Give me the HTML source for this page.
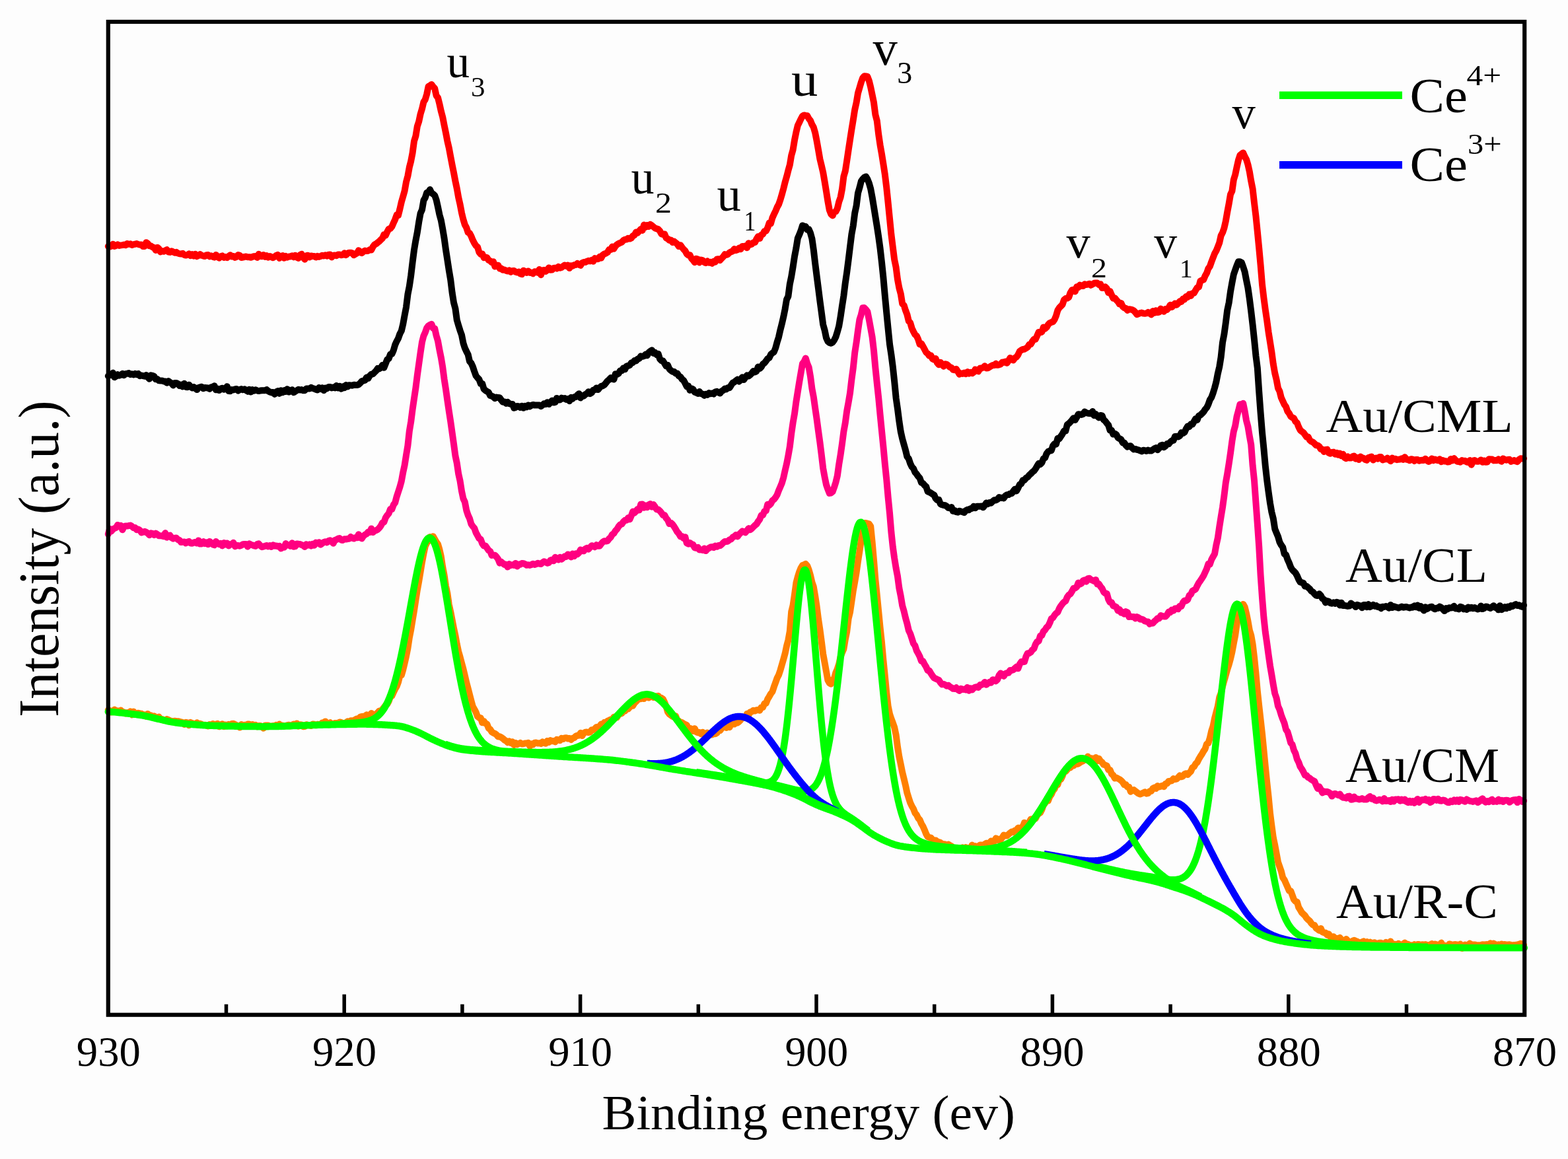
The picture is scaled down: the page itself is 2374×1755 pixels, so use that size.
<!DOCTYPE html>
<html><head><meta charset="utf-8"><title>Ce 3d XPS spectra</title>
<style>html,body{margin:0;padding:0;background:#fdfdfd}svg{display:block}</style></head>
<body><svg width="2374" height="1755" viewBox="0 0 2374 1755">
<rect width="2374" height="1755" fill="#fdfdfd"/>
<g><polyline points="163.8,373.0 166.2,373.6 168.6,372.6 171.0,369.7 173.4,373.0 175.8,372.0 178.2,370.3 180.6,371.9 183.0,371.4 185.4,371.1 187.8,370.5 190.2,371.2 192.6,369.0 195.0,369.8 197.4,369.3 199.8,371.0 202.2,370.1 204.6,369.7 207.0,369.0 209.4,370.0 211.8,370.6 214.2,370.4 216.6,373.1 219.0,372.9 221.4,367.2 223.8,368.9 226.2,372.2 228.6,372.5 231.0,374.3 233.4,375.1 235.8,379.0 238.2,374.7 240.6,376.7 243.0,381.4 245.4,380.0 247.8,380.7 250.2,379.5 252.6,378.2 255.0,381.5 257.4,381.9 259.8,380.2 262.2,381.4 264.6,382.8 267.0,381.8 269.4,383.5 271.8,384.2 274.2,384.4 276.6,383.8 279.0,385.9 281.4,386.6 283.8,386.0 286.2,384.4 288.6,387.1 291.0,385.3 293.4,387.7 295.8,384.8 298.2,388.2 300.6,386.9 303.0,385.1 305.4,386.8 307.8,387.5 310.2,388.0 312.6,386.2 315.0,386.1 317.4,388.4 319.8,387.4 322.2,388.7 324.6,389.6 327.0,385.9 329.4,389.0 331.8,390.6 334.2,388.2 336.6,387.4 339.0,389.9 341.4,389.1 343.8,390.1 346.2,388.1 348.6,386.3 351.0,388.5 353.4,387.9 355.8,389.9 358.2,388.9 360.6,386.0 363.0,386.7 365.4,390.0 367.8,389.6 370.2,388.9 372.6,388.5 375.0,389.2 377.4,389.2 379.8,389.8 382.2,388.8 384.6,388.2 387.0,388.0 389.4,390.0 391.8,384.7 394.2,388.1 396.6,388.3 399.0,386.0 401.4,388.8 403.8,387.2 406.2,389.6 408.6,388.0 411.0,389.3 413.4,390.2 415.8,388.8 418.2,386.8 420.6,385.8 423.0,391.0 425.4,388.0 427.8,387.1 430.2,390.8 432.6,388.0 435.0,389.7 437.4,388.4 439.8,388.4 442.2,387.3 444.6,389.2 447.0,386.8 449.4,389.6 451.8,391.0 454.2,386.1 456.6,384.7 459.0,389.6 461.4,392.7 463.8,387.1 466.2,386.7 468.6,389.6 471.0,387.4 473.4,387.9 475.8,388.1 478.2,389.5 480.6,387.9 483.0,388.9 485.4,388.0 487.8,386.8 490.2,387.5 492.6,386.4 495.0,387.7 497.4,385.7 499.8,385.6 502.2,389.4 504.6,386.8 507.0,386.6 509.4,387.2 511.8,385.5 514.2,385.5 516.6,386.3 519.0,385.9 521.4,383.3 523.8,386.2 526.2,383.7 528.6,382.7 531.0,382.7 533.4,383.3 535.8,386.2 538.2,384.8 540.6,383.3 543.0,379.2 545.4,382.2 547.8,383.2 550.2,380.9 552.6,379.6 555.0,380.1 557.4,379.7 559.8,378.1 562.2,378.5 564.6,373.7 567.0,370.5 569.4,369.3 571.8,367.3 574.2,365.5 576.6,363.0 579.0,360.8 581.4,355.2 583.8,356.4 586.2,351.1 588.6,346.8 591.0,346.0 593.4,343.1 595.8,337.5 598.2,332.3 600.6,325.6 603.0,326.0 605.4,316.5 607.8,305.8 610.2,297.7 612.6,289.1 615.0,275.5 617.4,266.5 619.8,253.3 622.2,243.9 624.6,231.5 627.0,213.7 629.4,206.1 631.8,191.3 634.2,184.0 636.6,172.6 639.0,164.8 641.4,154.4 643.8,150.7 646.2,142.6 648.6,130.9 651.0,129.6 653.4,127.9 655.8,131.3 658.2,133.7 660.6,144.8 663.0,147.8 665.4,157.4 667.8,168.4 670.2,177.3 672.6,189.6 675.0,201.2 677.4,213.8 679.8,224.1 682.2,237.2 684.6,249.6 687.0,261.5 689.4,274.2 691.8,285.6 694.2,299.2 696.6,309.7 699.0,322.3 701.4,332.3 703.8,340.3 706.2,344.6 708.6,351.8 711.0,353.1 713.4,357.6 715.8,363.6 718.2,368.3 720.6,371.9 723.0,374.0 725.4,381.9 727.8,384.9 730.2,384.6 732.6,390.1 735.0,389.4 737.4,390.3 739.8,393.9 742.2,395.1 744.6,397.4 747.0,396.3 749.4,403.6 751.8,401.5 754.2,401.7 756.6,406.7 759.0,406.5 761.4,408.8 763.8,408.6 766.2,409.7 768.6,410.6 771.0,409.3 773.4,411.9 775.8,410.3 778.2,409.9 780.6,411.7 783.0,412.5 785.4,411.6 787.8,414.4 790.2,415.2 792.6,409.7 795.0,410.9 797.4,412.8 799.8,410.6 802.2,412.9 804.6,412.8 807.0,414.3 809.4,411.3 811.8,411.6 814.2,412.8 816.6,407.9 819.0,416.2 821.4,409.6 823.8,408.9 826.2,410.8 828.6,408.8 831.0,405.4 833.4,408.7 835.8,408.6 838.2,406.0 840.6,405.8 843.0,406.6 845.4,404.0 847.8,405.7 850.2,404.9 852.6,403.1 855.0,401.5 857.4,403.0 859.8,401.5 862.2,406.1 864.6,402.3 867.0,402.8 869.4,401.3 871.8,401.0 874.2,398.9 876.6,400.7 879.0,401.9 881.4,398.0 883.8,397.0 886.2,397.0 888.6,395.8 891.0,394.8 893.4,395.4 895.8,393.9 898.2,395.8 900.6,391.2 903.0,392.2 905.4,392.2 907.8,389.1 910.2,390.7 912.6,386.1 915.0,384.5 917.4,383.6 919.8,382.1 922.2,378.0 924.6,378.1 927.0,373.6 929.4,376.7 931.8,372.8 934.2,370.3 936.6,368.9 939.0,367.8 941.4,366.7 943.8,364.0 946.2,362.8 948.6,362.6 951.0,360.7 953.4,361.6 955.8,360.5 958.2,357.1 960.6,356.1 963.0,351.4 965.4,352.7 967.8,349.7 970.2,346.9 972.6,348.9 975.0,340.6 977.4,344.0 979.8,340.9 982.2,343.0 984.6,339.8 987.0,341.4 989.4,343.5 991.8,345.5 994.2,346.4 996.6,347.1 999.0,349.6 1001.4,354.2 1003.8,355.0 1006.2,354.5 1008.6,360.4 1011.0,361.5 1013.4,363.8 1015.8,363.5 1018.2,366.9 1020.6,365.5 1023.0,367.5 1025.4,369.6 1027.8,373.1 1030.2,371.2 1032.6,374.5 1035.0,377.5 1037.4,379.9 1039.8,384.4 1042.2,386.5 1044.6,386.3 1047.0,391.5 1049.4,393.9 1051.8,397.2 1054.2,391.8 1056.6,392.5 1059.0,397.5 1061.4,393.6 1063.8,394.1 1066.2,397.1 1068.6,398.1 1071.0,395.6 1073.4,397.6 1075.8,396.9 1078.2,398.9 1080.6,395.9 1083.0,396.6 1085.4,392.4 1087.8,392.2 1090.2,394.0 1092.6,391.3 1095.0,388.8 1097.4,385.1 1099.8,386.0 1102.2,384.9 1104.6,382.4 1107.0,381.2 1109.4,380.3 1111.8,377.0 1114.2,379.1 1116.6,378.3 1119.0,375.6 1121.4,377.3 1123.8,372.9 1126.2,373.3 1128.6,372.3 1131.0,375.2 1133.4,368.2 1135.8,370.4 1138.2,369.7 1140.6,367.3 1143.0,367.1 1145.4,362.0 1147.8,358.2 1150.2,361.1 1152.6,355.8 1155.0,354.7 1157.4,350.2 1159.8,349.8 1162.2,345.0 1164.6,337.9 1167.0,338.3 1169.4,329.9 1171.8,324.5 1174.2,319.6 1176.6,313.8 1179.0,309.5 1181.4,302.7 1183.8,294.5 1186.2,285.7 1188.6,276.0 1191.0,267.7 1193.4,258.2 1195.8,249.7 1198.2,235.3 1200.6,226.8 1203.0,212.1 1205.4,200.2 1207.8,190.1 1210.2,185.2 1212.6,180.1 1215.0,175.8 1217.4,174.4 1219.8,174.9 1222.2,175.3 1224.6,179.6 1227.0,182.6 1229.4,188.6 1231.8,192.8 1234.2,201.1 1236.6,213.4 1239.0,226.9 1241.4,240.9 1243.8,250.8 1246.2,261.1 1248.6,275.2 1251.0,289.8 1253.4,304.9 1255.8,318.2 1258.2,324.1 1260.6,326.5 1263.0,321.6 1265.4,320.4 1267.8,315.8 1270.2,305.6 1272.6,298.8 1275.0,286.3 1277.4,267.1 1279.8,259.0 1282.2,243.6 1284.6,227.3 1287.0,211.5 1289.4,196.1 1291.8,181.5 1294.2,166.1 1296.6,155.3 1299.0,141.0 1301.4,132.9 1303.8,124.6 1306.2,118.0 1308.6,115.2 1311.0,115.5 1313.4,116.0 1315.8,122.2 1318.2,131.9 1320.6,143.4 1323.0,155.3 1325.4,173.8 1327.8,183.1 1330.2,203.5 1332.6,219.8 1335.0,233.4 1337.4,248.4 1339.8,264.0 1342.2,283.7 1344.6,306.7 1347.0,331.1 1349.4,355.2 1351.8,374.4 1354.2,393.3 1356.6,404.8 1359.0,423.3 1361.4,436.1 1363.8,445.1 1366.2,460.0 1368.6,462.3 1371.0,469.9 1373.4,476.2 1375.8,486.1 1378.2,488.8 1380.6,497.0 1383.0,502.2 1385.4,506.6 1387.8,508.7 1390.2,513.9 1392.6,521.4 1395.0,520.3 1397.4,524.5 1399.8,528.9 1402.2,533.5 1404.6,535.4 1407.0,538.8 1409.4,538.2 1411.8,543.4 1414.2,544.7 1416.6,542.9 1419.0,549.5 1421.4,552.2 1423.8,548.7 1426.2,551.3 1428.6,554.7 1431.0,551.3 1433.4,551.6 1435.8,553.8 1438.2,555.9 1440.6,556.9 1443.0,559.8 1445.4,560.2 1447.8,558.8 1450.2,562.7 1452.6,566.8 1455.0,565.4 1457.4,565.9 1459.8,564.5 1462.2,566.3 1464.6,563.1 1467.0,565.6 1469.4,563.9 1471.8,565.3 1474.2,563.6 1476.6,559.4 1479.0,561.5 1481.4,562.3 1483.8,557.6 1486.2,557.6 1488.6,556.4 1491.0,554.3 1493.4,557.5 1495.8,557.3 1498.2,555.8 1500.6,554.2 1503.0,553.1 1505.4,553.0 1507.8,550.8 1510.2,552.8 1512.6,552.3 1515.0,551.5 1517.4,548.5 1519.8,548.7 1522.2,547.5 1524.6,549.7 1527.0,546.2 1529.4,541.9 1531.8,544.4 1534.2,545.4 1536.6,541.9 1539.0,540.4 1541.4,537.2 1543.8,532.0 1546.2,530.2 1548.6,529.0 1551.0,528.7 1553.4,527.3 1555.8,525.7 1558.2,521.7 1560.6,521.4 1563.0,517.0 1565.4,513.8 1567.8,513.8 1570.2,508.5 1572.6,503.1 1575.0,503.3 1577.4,502.8 1579.8,495.5 1582.2,497.7 1584.6,495.6 1587.0,491.5 1589.4,489.0 1591.8,488.0 1594.2,487.2 1596.6,483.9 1599.0,478.1 1601.4,469.9 1603.8,466.0 1606.2,463.6 1608.6,461.2 1611.0,454.0 1613.4,452.0 1615.8,451.6 1618.2,450.2 1620.6,443.2 1623.0,439.2 1625.4,438.8 1627.8,441.4 1630.2,434.3 1632.6,435.2 1635.0,431.7 1637.4,433.0 1639.8,433.1 1642.2,430.4 1644.6,431.1 1647.0,430.6 1649.4,429.8 1651.8,431.8 1654.2,430.4 1656.6,428.8 1659.0,428.5 1661.4,428.6 1663.8,431.2 1666.2,430.4 1668.6,436.0 1671.0,435.7 1673.4,434.3 1675.8,436.9 1678.2,443.3 1680.6,441.0 1683.0,446.6 1685.4,451.7 1687.8,451.2 1690.2,454.2 1692.6,456.7 1695.0,460.5 1697.4,459.0 1699.8,464.1 1702.2,466.1 1704.6,467.0 1707.0,469.9 1709.4,468.3 1711.8,468.5 1714.2,469.1 1716.6,470.4 1719.0,473.0 1721.4,476.2 1723.8,475.2 1726.2,474.2 1728.6,473.6 1731.0,474.5 1733.4,474.7 1735.8,474.4 1738.2,472.9 1740.6,474.2 1743.0,476.4 1745.4,471.1 1747.8,473.8 1750.2,470.2 1752.6,473.1 1755.0,472.6 1757.4,467.5 1759.8,470.0 1762.2,471.8 1764.6,468.1 1767.0,468.9 1769.4,466.0 1771.8,461.7 1774.2,465.0 1776.6,462.4 1779.0,459.5 1781.4,461.7 1783.8,459.4 1786.2,456.4 1788.6,457.0 1791.0,452.5 1793.4,453.3 1795.8,449.1 1798.2,449.9 1800.6,445.6 1803.0,448.0 1805.4,444.1 1807.8,443.8 1810.2,439.6 1812.6,435.6 1815.0,434.6 1817.4,425.5 1819.8,424.4 1822.2,423.5 1824.6,417.8 1827.0,413.6 1829.4,406.7 1831.8,403.4 1834.2,396.5 1836.6,390.3 1839.0,384.0 1841.4,379.8 1843.8,373.8 1846.2,367.7 1848.6,356.9 1851.0,352.3 1853.4,345.3 1855.8,334.9 1858.2,321.2 1860.6,308.5 1863.0,294.3 1865.4,289.3 1867.8,272.2 1870.2,264.4 1872.6,253.0 1875.0,242.3 1877.4,235.1 1879.8,233.1 1882.2,231.4 1884.6,236.9 1887.0,241.3 1889.4,249.1 1891.8,259.9 1894.2,274.1 1896.6,286.0 1899.0,307.3 1901.4,327.0 1903.8,350.7 1906.2,375.6 1908.6,401.6 1911.0,430.8 1913.4,451.1 1915.8,469.2 1918.2,485.3 1920.6,503.2 1923.0,518.2 1925.4,533.4 1927.8,551.4 1930.2,565.0 1932.6,574.9 1935.0,587.7 1937.4,592.5 1939.8,602.2 1942.2,607.4 1944.6,612.6 1947.0,615.9 1949.4,622.9 1951.8,625.9 1954.2,630.5 1956.6,632.3 1959.0,633.4 1961.4,638.2 1963.8,640.4 1966.2,646.5 1968.6,651.3 1971.0,653.3 1973.4,655.0 1975.8,658.2 1978.2,661.8 1980.6,661.6 1983.0,666.4 1985.4,668.6 1987.8,669.4 1990.2,671.6 1992.6,674.3 1995.0,674.5 1997.4,676.1 1999.8,680.1 2002.2,680.5 2004.6,684.0 2007.0,680.9 2009.4,680.6 2011.8,685.9 2014.2,686.8 2016.6,684.9 2019.0,684.6 2021.4,687.7 2023.8,685.8 2026.2,688.8 2028.6,686.6 2031.0,690.3 2033.4,687.8 2035.8,693.0 2038.2,694.2 2040.6,691.6 2043.0,693.5 2045.4,693.6 2047.8,691.3 2050.2,690.5 2052.6,694.7 2055.0,693.1 2057.4,695.9 2059.8,691.5 2062.2,693.2 2064.6,693.8 2067.0,696.0 2069.4,696.8 2071.8,693.0 2074.2,692.3 2076.6,691.5 2079.0,696.5 2081.4,694.3 2083.8,693.5 2086.2,694.6 2088.6,692.0 2091.0,692.1 2093.4,696.4 2095.8,695.6 2098.2,695.3 2100.6,693.6 2103.0,696.2 2105.4,698.2 2107.8,693.5 2110.2,695.5 2112.6,694.8 2115.0,696.2 2117.4,695.7 2119.8,695.5 2122.2,694.4 2124.6,695.9 2127.0,692.2 2129.4,695.8 2131.8,696.0 2134.2,697.2 2136.6,695.2 2139.0,695.7 2141.4,698.0 2143.8,696.0 2146.2,696.0 2148.6,697.8 2151.0,696.9 2153.4,696.7 2155.8,697.0 2158.2,694.7 2160.6,697.5 2163.0,698.9 2165.4,697.8 2167.8,694.4 2170.2,697.4 2172.6,695.5 2175.0,696.7 2177.4,697.3 2179.8,695.2 2182.2,699.3 2184.6,697.1 2187.0,698.5 2189.4,698.3 2191.8,699.5 2194.2,699.3 2196.6,695.1 2199.0,697.5 2201.4,694.1 2203.8,696.8 2206.2,698.7 2208.6,699.0 2211.0,699.7 2213.4,697.0 2215.8,698.1 2218.2,697.8 2220.6,699.7 2223.0,700.2 2225.4,697.1 2227.8,703.7 2230.2,697.6 2232.6,697.0 2235.0,698.5 2237.4,698.8 2239.8,698.4 2242.2,696.4 2244.6,699.8 2247.0,697.5 2249.4,699.8 2251.8,699.5 2254.2,695.2 2256.6,695.6 2259.0,695.5 2261.4,697.4 2263.8,697.0 2266.2,697.3 2268.6,695.5 2271.0,697.4 2273.4,698.8 2275.8,694.4 2278.2,696.1 2280.6,696.7 2283.0,696.0 2285.4,695.8 2287.8,698.8 2290.2,697.9 2292.6,697.1 2295.0,698.5 2297.4,699.1 2299.8,695.9 2302.2,694.3 2304.6,694.5 2307.0,694.2" fill="none" stroke="#ff0000" stroke-width="10" stroke-linejoin="round" stroke-linecap="round"/><polyline points="163.8,569.3 166.2,568.0 168.6,568.1 171.0,564.6 173.4,571.2 175.8,569.8 178.2,567.2 180.6,568.6 183.0,567.6 185.4,566.0 187.8,568.2 190.2,565.9 192.6,565.8 195.0,565.0 197.4,567.0 199.8,566.2 202.2,567.4 204.6,565.8 207.0,567.2 209.4,566.0 211.8,569.1 214.2,568.5 216.6,569.1 219.0,569.7 221.4,567.9 223.8,571.2 226.2,573.7 228.6,568.3 231.0,568.8 233.4,569.8 235.8,574.3 238.2,574.0 240.6,576.3 243.0,576.5 245.4,576.5 247.8,577.4 250.2,577.4 252.6,579.8 255.0,577.2 257.4,578.9 259.8,580.5 262.2,583.5 264.6,579.9 267.0,579.9 269.4,581.2 271.8,584.1 274.2,582.6 276.6,585.5 279.0,580.8 281.4,586.0 283.8,586.2 286.2,582.7 288.6,585.5 291.0,587.5 293.4,586.0 295.8,587.7 298.2,590.1 300.6,587.0 303.0,586.3 305.4,585.7 307.8,588.2 310.2,587.0 312.6,587.2 315.0,587.5 317.4,588.8 319.8,586.3 322.2,585.7 324.6,584.3 327.0,590.3 329.4,588.6 331.8,591.1 334.2,588.7 336.6,587.7 339.0,589.8 341.4,589.0 343.8,585.2 346.2,592.1 348.6,592.3 351.0,590.1 353.4,590.4 355.8,589.4 358.2,588.9 360.6,591.5 363.0,590.0 365.4,589.1 367.8,590.3 370.2,589.2 372.6,591.1 375.0,592.7 377.4,589.7 379.8,593.5 382.2,590.3 384.6,591.8 387.0,590.4 389.4,591.5 391.8,592.1 394.2,591.5 396.6,591.2 399.0,591.3 401.4,591.2 403.8,590.1 406.2,592.3 408.6,593.5 411.0,594.4 413.4,594.0 415.8,596.9 418.2,593.5 420.6,592.2 423.0,595.9 425.4,591.2 427.8,594.3 430.2,591.1 432.6,593.1 435.0,589.2 437.4,593.6 439.8,591.7 442.2,590.2 444.6,594.3 447.0,592.6 449.4,591.2 451.8,589.8 454.2,590.6 456.6,590.1 459.0,591.3 461.4,591.2 463.8,588.6 466.2,588.6 468.6,588.4 471.0,586.9 473.4,588.0 475.8,588.6 478.2,589.7 480.6,590.5 483.0,587.0 485.4,589.0 487.8,587.3 490.2,591.2 492.6,587.6 495.0,588.4 497.4,585.9 499.8,586.0 502.2,587.5 504.6,586.4 507.0,587.4 509.4,584.0 511.8,587.5 514.2,584.8 516.6,588.8 519.0,585.3 521.4,587.3 523.8,583.0 526.2,585.6 528.6,583.2 531.0,583.4 533.4,583.8 535.8,582.7 538.2,583.0 540.6,583.1 543.0,582.2 545.4,580.1 547.8,577.1 550.2,576.6 552.6,575.8 555.0,571.5 557.4,573.0 559.8,569.0 562.2,566.7 564.6,566.4 567.0,563.9 569.4,561.5 571.8,557.9 574.2,558.4 576.6,556.8 579.0,553.0 581.4,556.8 583.8,550.6 586.2,544.5 588.6,543.0 591.0,536.6 593.4,535.9 595.8,530.5 598.2,522.1 600.6,516.8 603.0,512.4 605.4,505.5 607.8,501.0 610.2,490.8 612.6,477.7 615.0,465.1 617.4,445.8 619.8,433.6 622.2,417.2 624.6,397.2 627.0,378.5 629.4,364.2 631.8,351.8 634.2,336.2 636.6,323.0 639.0,317.6 641.4,303.5 643.8,299.3 646.2,291.7 648.6,290.9 651.0,287.1 653.4,292.1 655.8,293.8 658.2,295.9 660.6,302.6 663.0,313.4 665.4,325.0 667.8,333.7 670.2,346.6 672.6,360.9 675.0,378.2 677.4,393.7 679.8,409.5 682.2,423.6 684.6,443.1 687.0,458.2 689.4,467.2 691.8,484.7 694.2,492.9 696.6,500.6 699.0,507.2 701.4,519.4 703.8,526.9 706.2,532.1 708.6,536.7 711.0,547.2 713.4,549.9 715.8,555.1 718.2,562.4 720.6,569.0 723.0,572.0 725.4,574.5 727.8,581.0 730.2,581.0 732.6,589.2 735.0,591.2 737.4,592.7 739.8,594.1 742.2,599.0 744.6,599.7 747.0,601.0 749.4,603.2 751.8,601.6 754.2,602.1 756.6,602.3 759.0,605.8 761.4,608.7 763.8,608.4 766.2,610.8 768.6,609.0 771.0,611.2 773.4,611.8 775.8,611.9 778.2,617.7 780.6,616.9 783.0,614.9 785.4,615.4 787.8,616.9 790.2,614.8 792.6,617.8 795.0,615.0 797.4,616.3 799.8,613.5 802.2,615.5 804.6,613.8 807.0,613.0 809.4,613.5 811.8,613.4 814.2,613.5 816.6,613.5 819.0,615.2 821.4,613.5 823.8,611.2 826.2,612.1 828.6,609.3 831.0,612.1 833.4,609.6 835.8,606.6 838.2,609.5 840.6,609.1 843.0,602.9 845.4,605.5 847.8,605.5 850.2,602.6 852.6,603.5 855.0,603.1 857.4,604.9 859.8,604.0 862.2,607.2 864.6,601.8 867.0,603.7 869.4,601.3 871.8,601.0 874.2,598.1 876.6,596.2 879.0,602.5 881.4,599.0 883.8,599.6 886.2,597.2 888.6,596.2 891.0,593.2 893.4,596.0 895.8,594.7 898.2,590.6 900.6,590.2 903.0,587.4 905.4,590.1 907.8,587.1 910.2,584.9 912.6,584.3 915.0,582.8 917.4,579.9 919.8,576.8 922.2,574.9 924.6,572.2 927.0,573.7 929.4,574.5 931.8,566.2 934.2,567.0 936.6,565.5 939.0,561.3 941.4,561.3 943.8,557.4 946.2,559.3 948.6,554.6 951.0,553.9 953.4,553.1 955.8,549.5 958.2,549.0 960.6,546.0 963.0,546.5 965.4,543.7 967.8,542.8 970.2,539.3 972.6,539.8 975.0,539.2 977.4,536.7 979.8,538.3 982.2,533.8 984.6,531.7 987.0,530.3 989.4,534.8 991.8,533.8 994.2,537.2 996.6,535.8 999.0,543.5 1001.4,546.0 1003.8,546.5 1006.2,550.4 1008.6,554.3 1011.0,552.9 1013.4,558.6 1015.8,561.0 1018.2,562.7 1020.6,562.8 1023.0,565.6 1025.4,565.4 1027.8,569.4 1030.2,570.7 1032.6,574.2 1035.0,576.0 1037.4,580.4 1039.8,585.2 1042.2,584.5 1044.6,590.9 1047.0,588.4 1049.4,589.5 1051.8,593.7 1054.2,594.6 1056.6,595.9 1059.0,593.1 1061.4,596.1 1063.8,596.7 1066.2,598.8 1068.6,596.8 1071.0,597.8 1073.4,595.2 1075.8,596.2 1078.2,595.4 1080.6,596.6 1083.0,593.3 1085.4,592.8 1087.8,594.4 1090.2,595.5 1092.6,592.3 1095.0,591.0 1097.4,588.6 1099.8,589.4 1102.2,586.9 1104.6,587.2 1107.0,583.3 1109.4,579.6 1111.8,578.6 1114.2,576.5 1116.6,574.7 1119.0,577.4 1121.4,575.6 1123.8,571.2 1126.2,575.0 1128.6,571.4 1131.0,568.4 1133.4,569.5 1135.8,567.6 1138.2,565.2 1140.6,561.9 1143.0,563.5 1145.4,562.1 1147.8,555.4 1150.2,558.1 1152.6,555.7 1155.0,551.4 1157.4,549.7 1159.8,546.6 1162.2,543.3 1164.6,541.8 1167.0,536.8 1169.4,534.6 1171.8,533.0 1174.2,527.0 1176.6,518.1 1179.0,510.4 1181.4,499.7 1183.8,490.3 1186.2,479.9 1188.6,467.9 1191.0,453.5 1193.4,448.7 1195.8,430.2 1198.2,418.8 1200.6,404.1 1203.0,388.2 1205.4,375.7 1207.8,360.7 1210.2,355.3 1212.6,349.2 1215.0,341.5 1217.4,342.6 1219.8,343.0 1222.2,347.9 1224.6,347.3 1227.0,352.8 1229.4,361.5 1231.8,378.4 1234.2,399.0 1236.6,418.0 1239.0,436.6 1241.4,455.6 1243.8,473.3 1246.2,491.5 1248.6,500.1 1251.0,511.7 1253.4,516.9 1255.8,519.0 1258.2,519.8 1260.6,518.4 1263.0,515.1 1265.4,510.3 1267.8,502.5 1270.2,493.8 1272.6,479.6 1275.0,463.3 1277.4,447.9 1279.8,428.4 1282.2,412.3 1284.6,393.6 1287.0,373.9 1289.4,354.6 1291.8,341.6 1294.2,322.6 1296.6,311.7 1299.0,292.3 1301.4,284.2 1303.8,274.6 1306.2,271.0 1308.6,268.7 1311.0,267.4 1313.4,271.4 1315.8,277.3 1318.2,285.9 1320.6,298.6 1323.0,313.3 1325.4,328.1 1327.8,342.9 1330.2,358.8 1332.6,376.2 1335.0,397.3 1337.4,420.4 1339.8,447.6 1342.2,472.9 1344.6,497.2 1347.0,521.3 1349.4,537.0 1351.8,555.5 1354.2,577.9 1356.6,602.6 1359.0,619.2 1361.4,638.1 1363.8,653.9 1366.2,664.5 1368.6,673.2 1371.0,681.6 1373.4,691.5 1375.8,694.6 1378.2,701.8 1380.6,706.9 1383.0,709.4 1385.4,715.1 1387.8,717.8 1390.2,721.3 1392.6,724.1 1395.0,730.7 1397.4,731.9 1399.8,734.8 1402.2,736.8 1404.6,744.3 1407.0,745.2 1409.4,746.5 1411.8,748.2 1414.2,749.4 1416.6,754.8 1419.0,757.2 1421.4,756.8 1423.8,763.0 1426.2,764.3 1428.6,765.0 1431.0,765.3 1433.4,766.8 1435.8,768.9 1438.2,769.5 1440.6,768.1 1443.0,774.0 1445.4,773.0 1447.8,775.2 1450.2,775.7 1452.6,773.7 1455.0,774.7 1457.4,775.2 1459.8,776.2 1462.2,773.1 1464.6,771.8 1467.0,772.2 1469.4,770.2 1471.8,769.8 1474.2,766.7 1476.6,769.3 1479.0,766.7 1481.4,766.7 1483.8,766.7 1486.2,766.6 1488.6,768.3 1491.0,764.8 1493.4,761.4 1495.8,763.1 1498.2,761.0 1500.6,761.7 1503.0,759.1 1505.4,757.2 1507.8,757.4 1510.2,756.1 1512.6,753.1 1515.0,753.9 1517.4,753.7 1519.8,754.4 1522.2,750.7 1524.6,749.2 1527.0,749.1 1529.4,747.4 1531.8,747.3 1534.2,743.7 1536.6,740.8 1539.0,743.4 1541.4,739.0 1543.8,733.7 1546.2,732.5 1548.6,727.3 1551.0,727.1 1553.4,723.9 1555.8,722.5 1558.2,719.6 1560.6,717.5 1563.0,714.9 1565.4,713.1 1567.8,710.0 1570.2,705.9 1572.6,701.9 1575.0,703.1 1577.4,700.5 1579.8,694.6 1582.2,693.2 1584.6,686.8 1587.0,683.8 1589.4,682.6 1591.8,682.2 1594.2,674.9 1596.6,672.0 1599.0,672.7 1601.4,663.8 1603.8,664.5 1606.2,660.6 1608.6,657.1 1611.0,652.4 1613.4,652.6 1615.8,643.1 1618.2,641.4 1620.6,639.0 1623.0,636.2 1625.4,633.2 1627.8,636.0 1630.2,632.0 1632.6,627.2 1635.0,627.4 1637.4,627.9 1639.8,627.0 1642.2,623.4 1644.6,625.2 1647.0,625.7 1649.4,626.0 1651.8,626.2 1654.2,623.0 1656.6,629.2 1659.0,627.1 1661.4,630.1 1663.8,632.5 1666.2,629.0 1668.6,629.4 1671.0,635.7 1673.4,637.6 1675.8,640.9 1678.2,643.8 1680.6,651.6 1683.0,651.7 1685.4,657.6 1687.8,656.6 1690.2,658.0 1692.6,662.7 1695.0,664.2 1697.4,665.5 1699.8,670.4 1702.2,670.4 1704.6,674.3 1707.0,676.7 1709.4,675.4 1711.8,675.3 1714.2,678.3 1716.6,680.4 1719.0,679.9 1721.4,680.9 1723.8,681.4 1726.2,682.5 1728.6,683.5 1731.0,681.7 1733.4,682.2 1735.8,683.0 1738.2,681.6 1740.6,682.5 1743.0,682.6 1745.4,681.0 1747.8,679.3 1750.2,678.1 1752.6,681.2 1755.0,678.8 1757.4,674.5 1759.8,673.9 1762.2,677.2 1764.6,675.5 1767.0,672.0 1769.4,672.3 1771.8,669.3 1774.2,667.4 1776.6,666.9 1779.0,660.9 1781.4,660.8 1783.8,661.4 1786.2,660.0 1788.6,655.2 1791.0,656.0 1793.4,654.7 1795.8,649.3 1798.2,645.5 1800.6,646.2 1803.0,642.3 1805.4,642.5 1807.8,638.2 1810.2,634.1 1812.6,636.0 1815.0,629.5 1817.4,628.5 1819.8,626.3 1822.2,623.8 1824.6,620.0 1827.0,617.3 1829.4,612.3 1831.8,605.5 1834.2,601.8 1836.6,595.2 1839.0,587.4 1841.4,578.4 1843.8,565.8 1846.2,555.6 1848.6,540.8 1851.0,518.6 1853.4,506.1 1855.8,488.9 1858.2,469.7 1860.6,458.5 1863.0,441.4 1865.4,428.0 1867.8,415.6 1870.2,408.7 1872.6,402.0 1875.0,396.3 1877.4,396.2 1879.8,397.6 1882.2,404.0 1884.6,411.5 1887.0,424.0 1889.4,435.7 1891.8,452.4 1894.2,471.4 1896.6,491.8 1899.0,514.3 1901.4,538.6 1903.8,557.2 1906.2,592.8 1908.6,625.4 1911.0,654.8 1913.4,679.2 1915.8,705.6 1918.2,726.9 1920.6,745.1 1923.0,762.0 1925.4,775.6 1927.8,785.2 1930.2,800.8 1932.6,806.8 1935.0,812.5 1937.4,820.8 1939.8,825.3 1942.2,828.6 1944.6,838.9 1947.0,840.0 1949.4,847.2 1951.8,852.4 1954.2,858.7 1956.6,862.7 1959.0,865.1 1961.4,867.5 1963.8,871.7 1966.2,877.4 1968.6,881.5 1971.0,882.2 1973.4,882.8 1975.8,887.8 1978.2,887.7 1980.6,889.7 1983.0,891.8 1985.4,895.1 1987.8,896.4 1990.2,899.3 1992.6,901.5 1995.0,902.0 1997.4,899.2 1999.8,901.9 2002.2,906.4 2004.6,907.6 2007.0,912.4 2009.4,910.0 2011.8,910.7 2014.2,913.1 2016.6,913.8 2019.0,912.3 2021.4,913.9 2023.8,911.9 2026.2,912.6 2028.6,916.5 2031.0,912.7 2033.4,916.9 2035.8,916.8 2038.2,917.3 2040.6,917.9 2043.0,917.6 2045.4,913.5 2047.8,915.6 2050.2,916.4 2052.6,919.0 2055.0,915.9 2057.4,916.8 2059.8,917.4 2062.2,920.2 2064.6,915.9 2067.0,916.1 2069.4,919.3 2071.8,915.0 2074.2,919.0 2076.6,917.8 2079.0,916.0 2081.4,917.9 2083.8,917.1 2086.2,919.0 2088.6,919.3 2091.0,921.2 2093.4,918.8 2095.8,919.0 2098.2,918.0 2100.6,918.9 2103.0,920.7 2105.4,915.9 2107.8,920.1 2110.2,918.2 2112.6,919.2 2115.0,919.6 2117.4,920.5 2119.8,919.6 2122.2,918.6 2124.6,919.7 2127.0,919.3 2129.4,919.0 2131.8,919.7 2134.2,920.4 2136.6,919.6 2139.0,919.7 2141.4,917.4 2143.8,919.3 2146.2,916.6 2148.6,920.8 2151.0,918.1 2153.4,921.8 2155.8,924.5 2158.2,919.2 2160.6,922.0 2163.0,920.5 2165.4,919.1 2167.8,918.7 2170.2,921.0 2172.6,922.3 2175.0,920.7 2177.4,920.9 2179.8,918.6 2182.2,919.9 2184.6,922.5 2187.0,925.1 2189.4,921.0 2191.8,922.4 2194.2,920.2 2196.6,920.4 2199.0,920.3 2201.4,917.8 2203.8,921.4 2206.2,921.4 2208.6,922.3 2211.0,918.8 2213.4,919.5 2215.8,922.3 2218.2,921.3 2220.6,923.0 2223.0,919.4 2225.4,921.1 2227.8,919.7 2230.2,921.3 2232.6,920.0 2235.0,921.6 2237.4,922.4 2239.8,921.7 2242.2,917.6 2244.6,922.0 2247.0,921.1 2249.4,918.6 2251.8,918.8 2254.2,920.1 2256.6,920.9 2259.0,919.2 2261.4,917.2 2263.8,920.1 2266.2,919.8 2268.6,923.3 2271.0,917.2 2273.4,923.2 2275.8,921.8 2278.2,919.3 2280.6,921.3 2283.0,918.7 2285.4,919.9 2287.8,917.0 2290.2,918.1 2292.6,916.2 2295.0,915.1 2297.4,917.0 2299.8,916.2 2302.2,918.0 2304.6,918.9 2307.0,916.5" fill="none" stroke="#000000" stroke-width="10" stroke-linejoin="round" stroke-linecap="round"/><polyline points="163.8,808.8 166.2,800.8 168.6,804.4 171.0,801.4 173.4,800.0 175.8,798.9 178.2,794.9 180.6,797.0 183.0,795.7 185.4,802.3 187.8,797.4 190.2,796.4 192.6,796.6 195.0,796.0 197.4,795.6 199.8,797.1 202.2,799.3 204.6,799.1 207.0,802.2 209.4,801.5 211.8,803.0 214.2,806.5 216.6,805.8 219.0,804.8 221.4,805.9 223.8,807.6 226.2,810.3 228.6,807.3 231.0,807.8 233.4,810.2 235.8,807.6 238.2,809.0 240.6,811.3 243.0,811.2 245.4,811.4 247.8,812.2 250.2,807.1 252.6,813.8 255.0,811.1 257.4,810.6 259.8,814.3 262.2,815.7 264.6,814.7 267.0,814.6 269.4,817.2 271.8,818.0 274.2,821.1 276.6,820.8 279.0,820.6 281.4,822.5 283.8,820.8 286.2,819.9 288.6,822.5 291.0,822.7 293.4,821.6 295.8,820.9 298.2,822.6 300.6,818.4 303.0,823.6 305.4,823.4 307.8,820.1 310.2,823.0 312.6,821.4 315.0,824.3 317.4,819.9 319.8,821.8 322.2,824.5 324.6,825.3 327.0,820.0 329.4,822.8 331.8,824.2 334.2,822.8 336.6,826.4 339.0,822.0 341.4,824.6 343.8,822.5 346.2,826.5 348.6,824.3 351.0,823.9 353.4,821.8 355.8,827.4 358.2,826.0 360.6,826.1 363.0,826.8 365.4,825.7 367.8,824.2 370.2,824.0 372.6,824.1 375.0,827.7 377.4,823.3 379.8,824.8 382.2,825.3 384.6,826.3 387.0,826.9 389.4,824.1 391.8,823.4 394.2,826.2 396.6,828.2 399.0,827.6 401.4,826.7 403.8,825.9 406.2,827.5 408.6,826.1 411.0,827.9 413.4,825.3 415.8,826.8 418.2,826.4 420.6,827.5 423.0,826.9 425.4,830.6 427.8,828.9 430.2,828.8 432.6,823.1 435.0,825.7 437.4,825.2 439.8,826.9 442.2,822.3 444.6,827.7 447.0,827.4 449.4,823.4 451.8,823.8 454.2,823.9 456.6,825.1 459.0,825.9 461.4,828.0 463.8,824.2 466.2,825.6 468.6,824.4 471.0,826.8 473.4,823.7 475.8,825.8 478.2,821.6 480.6,822.7 483.0,821.2 485.4,824.7 487.8,823.0 490.2,821.0 492.6,820.3 495.0,821.4 497.4,819.1 499.8,818.3 502.2,820.1 504.6,822.8 507.0,818.0 509.4,817.1 511.8,815.7 514.2,815.1 516.6,817.7 519.0,817.9 521.4,816.3 523.8,816.5 526.2,816.0 528.6,815.8 531.0,813.0 533.4,814.7 535.8,815.5 538.2,813.9 540.6,814.3 543.0,809.2 545.4,814.1 547.8,815.4 550.2,811.8 552.6,809.7 555.0,808.4 557.4,805.6 559.8,806.0 562.2,800.4 564.6,806.1 567.0,803.8 569.4,803.2 571.8,801.9 574.2,799.4 576.6,796.2 579.0,791.6 581.4,790.6 583.8,783.9 586.2,780.2 588.6,777.5 591.0,771.0 593.4,770.9 595.8,764.4 598.2,761.3 600.6,752.1 603.0,744.7 605.4,737.4 607.8,728.6 610.2,715.5 612.6,704.5 615.0,689.3 617.4,674.7 619.8,652.9 622.2,638.5 624.6,619.9 627.0,603.6 629.4,587.4 631.8,568.4 634.2,551.1 636.6,533.9 639.0,518.0 641.4,508.6 643.8,503.4 646.2,496.5 648.6,493.4 651.0,491.8 653.4,490.8 655.8,497.1 658.2,497.4 660.6,508.2 663.0,516.4 665.4,529.6 667.8,541.4 670.2,555.8 672.6,574.2 675.0,589.5 677.4,606.5 679.8,622.7 682.2,638.3 684.6,655.2 687.0,672.3 689.4,690.1 691.8,701.4 694.2,717.7 696.6,728.4 699.0,743.8 701.4,755.0 703.8,760.1 706.2,772.6 708.6,780.0 711.0,785.1 713.4,793.4 715.8,797.0 718.2,799.7 720.6,806.5 723.0,810.9 725.4,815.3 727.8,816.8 730.2,823.2 732.6,826.6 735.0,826.5 737.4,829.9 739.8,833.4 742.2,835.0 744.6,840.9 747.0,840.6 749.4,840.8 751.8,843.3 754.2,846.7 756.6,852.7 759.0,850.8 761.4,853.1 763.8,854.9 766.2,854.7 768.6,858.6 771.0,854.1 773.4,856.1 775.8,855.2 778.2,855.9 780.6,852.9 783.0,857.6 785.4,854.5 787.8,854.7 790.2,853.0 792.6,853.3 795.0,854.2 797.4,855.8 799.8,855.3 802.2,855.9 804.6,855.0 807.0,853.8 809.4,854.9 811.8,854.2 814.2,852.7 816.6,853.6 819.0,854.0 821.4,851.8 823.8,850.2 826.2,851.4 828.6,852.7 831.0,851.9 833.4,848.3 835.8,847.7 838.2,849.3 840.6,843.8 843.0,846.8 845.4,847.6 847.8,843.8 850.2,846.9 852.6,844.7 855.0,842.4 857.4,842.9 859.8,839.5 862.2,840.4 864.6,843.5 867.0,838.5 869.4,842.2 871.8,838.3 874.2,839.3 876.6,836.9 879.0,832.4 881.4,834.1 883.8,834.4 886.2,831.2 888.6,829.9 891.0,831.5 893.4,828.9 895.8,826.2 898.2,826.8 900.6,828.3 903.0,825.2 905.4,826.7 907.8,826.8 910.2,823.5 912.6,820.7 915.0,819.2 917.4,819.6 919.8,819.1 922.2,815.8 924.6,813.6 927.0,809.3 929.4,807.7 931.8,803.7 934.2,801.3 936.6,797.3 939.0,794.4 941.4,793.6 943.8,790.1 946.2,787.8 948.6,787.8 951.0,784.1 953.4,786.5 955.8,781.0 958.2,774.5 960.6,776.7 963.0,774.1 965.4,770.8 967.8,772.4 970.2,763.7 972.6,763.5 975.0,768.7 977.4,765.5 979.8,768.2 982.2,764.2 984.6,763.1 987.0,767.6 989.4,764.1 991.8,767.5 994.2,771.4 996.6,771.4 999.0,773.6 1001.4,776.4 1003.8,780.1 1006.2,779.9 1008.6,784.7 1011.0,787.3 1013.4,793.1 1015.8,791.8 1018.2,794.0 1020.6,797.3 1023.0,801.2 1025.4,805.4 1027.8,808.0 1030.2,812.4 1032.6,812.0 1035.0,815.1 1037.4,813.2 1039.8,822.4 1042.2,823.7 1044.6,822.1 1047.0,823.9 1049.4,824.8 1051.8,829.3 1054.2,829.9 1056.6,828.8 1059.0,832.5 1061.4,832.2 1063.8,833.1 1066.2,830.6 1068.6,834.1 1071.0,831.4 1073.4,829.9 1075.8,828.5 1078.2,828.1 1080.6,829.1 1083.0,826.5 1085.4,827.8 1087.8,826.1 1090.2,826.3 1092.6,824.4 1095.0,821.9 1097.4,820.0 1099.8,820.0 1102.2,819.5 1104.6,817.2 1107.0,816.5 1109.4,813.5 1111.8,812.3 1114.2,810.0 1116.6,812.4 1119.0,809.2 1121.4,806.9 1123.8,804.4 1126.2,805.0 1128.6,806.3 1131.0,803.4 1133.4,800.1 1135.8,802.1 1138.2,800.4 1140.6,797.9 1143.0,795.5 1145.4,793.6 1147.8,789.6 1150.2,786.5 1152.6,780.3 1155.0,780.0 1157.4,774.2 1159.8,773.5 1162.2,763.7 1164.6,765.2 1167.0,762.9 1169.4,758.0 1171.8,756.2 1174.2,753.3 1176.6,749.2 1179.0,742.8 1181.4,737.3 1183.8,731.5 1186.2,723.3 1188.6,712.5 1191.0,702.4 1193.4,690.1 1195.8,676.3 1198.2,656.6 1200.6,640.0 1203.0,626.4 1205.4,608.4 1207.8,593.2 1210.2,578.4 1212.6,564.3 1215.0,550.6 1217.4,547.6 1219.8,542.5 1222.2,550.5 1224.6,556.2 1227.0,570.0 1229.4,588.4 1231.8,601.1 1234.2,618.1 1236.6,634.5 1239.0,652.5 1241.4,669.8 1243.8,688.9 1246.2,709.2 1248.6,722.3 1251.0,734.0 1253.4,740.9 1255.8,746.9 1258.2,746.5 1260.6,744.5 1263.0,737.9 1265.4,730.3 1267.8,720.5 1270.2,703.3 1272.6,688.6 1275.0,671.9 1277.4,653.4 1279.8,640.1 1282.2,622.3 1284.6,609.4 1287.0,595.1 1289.4,574.6 1291.8,557.0 1294.2,533.9 1296.6,518.4 1299.0,500.5 1301.4,484.0 1303.8,476.4 1306.2,466.3 1308.6,466.1 1311.0,468.6 1313.4,472.0 1315.8,484.0 1318.2,497.1 1320.6,510.4 1323.0,531.0 1325.4,557.3 1327.8,580.4 1330.2,602.6 1332.6,628.2 1335.0,652.6 1337.4,676.6 1339.8,702.2 1342.2,725.6 1344.6,752.7 1347.0,776.9 1349.4,805.9 1351.8,828.3 1354.2,845.5 1356.6,860.2 1359.0,872.8 1361.4,890.8 1363.8,902.7 1366.2,917.1 1368.6,925.4 1371.0,935.7 1373.4,944.2 1375.8,954.6 1378.2,959.6 1380.6,966.8 1383.0,974.4 1385.4,977.7 1387.8,985.2 1390.2,989.5 1392.6,994.3 1395.0,1001.0 1397.4,1001.3 1399.8,1006.1 1402.2,1009.7 1404.6,1015.4 1407.0,1015.6 1409.4,1019.6 1411.8,1023.3 1414.2,1026.5 1416.6,1027.6 1419.0,1028.7 1421.4,1029.8 1423.8,1033.5 1426.2,1036.4 1428.6,1035.9 1431.0,1037.0 1433.4,1038.7 1435.8,1037.7 1438.2,1039.9 1440.6,1041.1 1443.0,1042.8 1445.4,1042.9 1447.8,1041.3 1450.2,1044.3 1452.6,1046.0 1455.0,1042.9 1457.4,1043.9 1459.8,1043.7 1462.2,1044.6 1464.6,1040.9 1467.0,1045.8 1469.4,1042.2 1471.8,1044.6 1474.2,1042.1 1476.6,1040.6 1479.0,1040.1 1481.4,1040.9 1483.8,1037.1 1486.2,1036.9 1488.6,1035.8 1491.0,1032.9 1493.4,1036.8 1495.8,1034.7 1498.2,1032.8 1500.6,1033.7 1503.0,1029.2 1505.4,1029.6 1507.8,1031.3 1510.2,1028.9 1512.6,1022.6 1515.0,1019.5 1517.4,1021.9 1519.8,1023.9 1522.2,1020.1 1524.6,1019.0 1527.0,1018.8 1529.4,1014.9 1531.8,1015.0 1534.2,1014.2 1536.6,1011.8 1539.0,1009.8 1541.4,1012.3 1543.8,1005.8 1546.2,1002.1 1548.6,1002.3 1551.0,1002.0 1553.4,994.2 1555.8,989.2 1558.2,989.2 1560.6,987.6 1563.0,984.1 1565.4,982.3 1567.8,975.6 1570.2,971.7 1572.6,970.9 1575.0,962.9 1577.4,962.2 1579.8,956.1 1582.2,953.8 1584.6,950.0 1587.0,947.9 1589.4,943.1 1591.8,936.8 1594.2,935.4 1596.6,931.6 1599.0,928.8 1601.4,927.0 1603.8,921.4 1606.2,917.4 1608.6,914.2 1611.0,911.6 1613.4,910.0 1615.8,904.2 1618.2,900.9 1620.6,899.3 1623.0,895.4 1625.4,890.7 1627.8,890.6 1630.2,888.8 1632.6,882.5 1635.0,884.8 1637.4,883.4 1639.8,879.4 1642.2,878.3 1644.6,880.7 1647.0,876.2 1649.4,875.8 1651.8,877.9 1654.2,878.8 1656.6,880.0 1659.0,877.9 1661.4,884.5 1663.8,884.3 1666.2,888.2 1668.6,891.0 1671.0,896.3 1673.4,898.3 1675.8,898.8 1678.2,907.6 1680.6,912.0 1683.0,912.2 1685.4,917.5 1687.8,918.1 1690.2,919.2 1692.6,924.7 1695.0,923.0 1697.4,927.7 1699.8,926.9 1702.2,929.8 1704.6,926.2 1707.0,927.3 1709.4,934.0 1711.8,933.5 1714.2,934.1 1716.6,934.1 1719.0,936.3 1721.4,934.1 1723.8,935.3 1726.2,937.7 1728.6,937.5 1731.0,938.6 1733.4,940.5 1735.8,941.1 1738.2,941.5 1740.6,944.8 1743.0,943.7 1745.4,943.7 1747.8,940.9 1750.2,939.0 1752.6,936.2 1755.0,936.4 1757.4,932.1 1759.8,932.9 1762.2,933.5 1764.6,933.5 1767.0,931.0 1769.4,926.6 1771.8,927.2 1774.2,923.6 1776.6,924.6 1779.0,921.5 1781.4,921.3 1783.8,922.2 1786.2,917.7 1788.6,918.0 1791.0,912.4 1793.4,909.4 1795.8,909.8 1798.2,908.0 1800.6,901.7 1803.0,900.0 1805.4,894.7 1807.8,893.6 1810.2,892.2 1812.6,887.2 1815.0,882.7 1817.4,879.3 1819.8,875.7 1822.2,871.8 1824.6,866.7 1827.0,861.4 1829.4,854.1 1831.8,854.5 1834.2,847.4 1836.6,843.0 1839.0,838.8 1841.4,825.4 1843.8,814.7 1846.2,798.0 1848.6,782.7 1851.0,768.2 1853.4,750.7 1855.8,731.0 1858.2,717.5 1860.6,702.2 1863.0,685.9 1865.4,668.0 1867.8,653.4 1870.2,644.6 1872.6,630.5 1875.0,621.9 1877.4,612.2 1879.8,615.4 1882.2,610.7 1884.6,622.5 1887.0,636.7 1889.4,645.7 1891.8,660.3 1894.2,673.4 1896.6,704.8 1899.0,727.5 1901.4,760.7 1903.8,793.2 1906.2,827.7 1908.6,871.2 1911.0,905.1 1913.4,935.1 1915.8,957.2 1918.2,973.8 1920.6,991.6 1923.0,1008.3 1925.4,1022.1 1927.8,1036.9 1930.2,1050.0 1932.6,1057.0 1935.0,1069.2 1937.4,1074.5 1939.8,1082.7 1942.2,1089.2 1944.6,1095.1 1947.0,1104.6 1949.4,1108.1 1951.8,1116.2 1954.2,1124.9 1956.6,1127.5 1959.0,1135.9 1961.4,1140.7 1963.8,1149.5 1966.2,1154.2 1968.6,1161.0 1971.0,1164.5 1973.4,1168.8 1975.8,1173.9 1978.2,1174.3 1980.6,1177.2 1983.0,1178.3 1985.4,1180.3 1987.8,1181.9 1990.2,1183.0 1992.6,1188.8 1995.0,1194.0 1997.4,1191.3 1999.8,1195.3 2002.2,1200.5 2004.6,1198.4 2007.0,1199.0 2009.4,1198.8 2011.8,1199.8 2014.2,1201.5 2016.6,1205.6 2019.0,1202.5 2021.4,1201.7 2023.8,1202.9 2026.2,1204.2 2028.6,1202.5 2031.0,1206.1 2033.4,1207.7 2035.8,1207.7 2038.2,1208.6 2040.6,1206.0 2043.0,1205.6 2045.4,1210.7 2047.8,1210.6 2050.2,1206.6 2052.6,1209.6 2055.0,1209.5 2057.4,1210.5 2059.8,1210.1 2062.2,1209.1 2064.6,1210.4 2067.0,1210.5 2069.4,1210.4 2071.8,1207.6 2074.2,1206.0 2076.6,1209.6 2079.0,1208.4 2081.4,1211.5 2083.8,1212.4 2086.2,1211.7 2088.6,1210.8 2091.0,1211.6 2093.4,1213.4 2095.8,1209.1 2098.2,1213.1 2100.6,1212.8 2103.0,1212.1 2105.4,1214.1 2107.8,1210.7 2110.2,1213.4 2112.6,1210.4 2115.0,1210.7 2117.4,1210.3 2119.8,1212.8 2122.2,1210.6 2124.6,1212.2 2127.0,1210.4 2129.4,1213.9 2131.8,1215.2 2134.2,1212.7 2136.6,1215.0 2139.0,1213.3 2141.4,1215.9 2143.8,1212.6 2146.2,1210.0 2148.6,1214.9 2151.0,1212.3 2153.4,1210.9 2155.8,1211.5 2158.2,1210.0 2160.6,1212.4 2163.0,1210.9 2165.4,1215.0 2167.8,1213.8 2170.2,1210.0 2172.6,1210.3 2175.0,1211.8 2177.4,1209.7 2179.8,1212.6 2182.2,1212.7 2184.6,1211.5 2187.0,1211.9 2189.4,1213.6 2191.8,1215.1 2194.2,1215.2 2196.6,1212.9 2199.0,1214.2 2201.4,1211.6 2203.8,1213.5 2206.2,1211.3 2208.6,1214.0 2211.0,1210.8 2213.4,1211.3 2215.8,1212.8 2218.2,1213.7 2220.6,1210.5 2223.0,1211.9 2225.4,1213.0 2227.8,1213.2 2230.2,1213.9 2232.6,1213.0 2235.0,1212.4 2237.4,1215.0 2239.8,1213.7 2242.2,1210.7 2244.6,1209.3 2247.0,1213.0 2249.4,1214.7 2251.8,1213.1 2254.2,1214.2 2256.6,1212.0 2259.0,1210.6 2261.4,1214.0 2263.8,1213.0 2266.2,1213.9 2268.6,1210.6 2271.0,1213.1 2273.4,1211.8 2275.8,1214.1 2278.2,1211.9 2280.6,1211.8 2283.0,1211.9 2285.4,1214.8 2287.8,1212.8 2290.2,1211.6 2292.6,1211.2 2295.0,1211.1 2297.4,1215.1 2299.8,1209.9 2302.2,1211.4 2304.6,1213.8 2307.0,1212.7" fill="none" stroke="#ff0080" stroke-width="10" stroke-linejoin="round" stroke-linecap="round"/><polyline points="163.8,1075.2 166.2,1076.0 168.6,1078.5 171.0,1077.4 173.4,1074.6 175.8,1076.9 178.2,1076.3 180.6,1077.6 183.0,1075.5 185.4,1078.2 187.8,1078.4 190.2,1080.5 192.6,1079.1 195.0,1079.6 197.4,1077.3 199.8,1082.5 202.2,1077.4 204.6,1081.7 207.0,1080.1 209.4,1079.7 211.8,1080.4 214.2,1080.7 216.6,1082.5 219.0,1082.3 221.4,1084.8 223.8,1081.0 226.2,1083.9 228.6,1083.3 231.0,1086.0 233.4,1084.4 235.8,1085.8 238.2,1087.1 240.6,1085.5 243.0,1089.3 245.4,1088.9 247.8,1090.6 250.2,1091.1 252.6,1089.1 255.0,1089.9 257.4,1091.1 259.8,1092.8 262.2,1092.1 264.6,1091.7 267.0,1092.2 269.4,1092.2 271.8,1092.7 274.2,1093.5 276.6,1093.9 279.0,1097.0 281.4,1093.9 283.8,1094.4 286.2,1098.3 288.6,1094.0 291.0,1095.0 293.4,1095.7 295.8,1096.9 298.2,1094.3 300.6,1098.0 303.0,1095.9 305.4,1096.8 307.8,1097.8 310.2,1097.7 312.6,1098.3 315.0,1099.5 317.4,1097.1 319.8,1097.7 322.2,1096.0 324.6,1099.0 327.0,1096.5 329.4,1095.9 331.8,1100.3 334.2,1097.5 336.6,1096.2 339.0,1100.2 341.4,1097.4 343.8,1099.3 346.2,1096.9 348.6,1097.7 351.0,1095.9 353.4,1095.7 355.8,1096.9 358.2,1098.1 360.6,1099.3 363.0,1101.5 365.4,1097.0 367.8,1099.7 370.2,1097.7 372.6,1098.3 375.0,1096.6 377.4,1096.6 379.8,1097.6 382.2,1097.0 384.6,1098.6 387.0,1097.7 389.4,1100.3 391.8,1098.9 394.2,1098.9 396.6,1100.2 399.0,1102.7 401.4,1098.6 403.8,1098.6 406.2,1098.5 408.6,1100.1 411.0,1099.7 413.4,1099.1 415.8,1099.6 418.2,1097.8 420.6,1099.2 423.0,1096.6 425.4,1100.2 427.8,1098.5 430.2,1100.0 432.6,1099.0 435.0,1098.1 437.4,1097.7 439.8,1099.5 442.2,1098.1 444.6,1096.6 447.0,1098.3 449.4,1095.4 451.8,1099.7 454.2,1097.2 456.6,1097.4 459.0,1100.2 461.4,1100.0 463.8,1097.2 466.2,1097.8 468.6,1098.3 471.0,1099.0 473.4,1096.5 475.8,1096.7 478.2,1098.1 480.6,1096.7 483.0,1097.2 485.4,1097.0 487.8,1094.6 490.2,1094.8 492.6,1092.4 495.0,1095.4 497.4,1097.4 499.8,1094.1 502.2,1097.0 504.6,1096.5 507.0,1095.0 509.4,1094.9 511.8,1094.9 514.2,1093.5 516.6,1094.0 519.0,1095.4 521.4,1094.8 523.8,1094.7 526.2,1092.4 528.6,1094.0 531.0,1091.3 533.4,1091.2 535.8,1091.0 538.2,1089.5 540.6,1088.3 543.0,1087.8 545.4,1085.8 547.8,1084.9 550.2,1084.8 552.6,1085.9 555.0,1082.3 557.4,1086.7 559.8,1084.4 562.2,1080.0 564.6,1082.9 567.0,1084.8 569.4,1081.4 571.8,1079.1 574.2,1076.5 576.6,1077.0 579.0,1074.2 581.4,1071.2 583.8,1068.1 586.2,1066.3 588.6,1062.0 591.0,1055.4 593.4,1053.8 595.8,1048.5 598.2,1043.3 600.6,1039.4 603.0,1033.0 605.4,1023.2 607.8,1022.5 610.2,1014.4 612.6,1004.4 615.0,993.8 617.4,981.8 619.8,965.7 622.2,953.6 624.6,939.0 627.0,924.6 629.4,908.8 631.8,893.5 634.2,880.4 636.6,866.0 639.0,851.3 641.4,838.5 643.8,827.2 646.2,821.9 648.6,819.1 651.0,813.0 653.4,816.0 655.8,812.2 658.2,816.5 660.6,820.7 663.0,823.9 665.4,832.0 667.8,842.7 670.2,858.5 672.6,870.9 675.0,887.5 677.4,898.6 679.8,915.5 682.2,926.3 684.6,938.8 687.0,951.1 689.4,962.2 691.8,975.3 694.2,986.5 696.6,994.9 699.0,1004.1 701.4,1012.8 703.8,1023.0 706.2,1033.4 708.6,1042.4 711.0,1051.7 713.4,1060.9 715.8,1069.8 718.2,1074.0 720.6,1078.4 723.0,1084.9 725.4,1086.8 727.8,1087.2 730.2,1094.3 732.6,1092.0 735.0,1095.5 737.4,1096.4 739.8,1102.8 742.2,1104.4 744.6,1108.3 747.0,1109.9 749.4,1110.9 751.8,1112.6 754.2,1115.5 756.6,1115.2 759.0,1116.6 761.4,1118.3 763.8,1120.5 766.2,1121.8 768.6,1124.2 771.0,1122.5 773.4,1125.0 775.8,1123.2 778.2,1128.0 780.6,1125.0 783.0,1127.3 785.4,1126.1 787.8,1124.9 790.2,1126.4 792.6,1126.2 795.0,1125.5 797.4,1125.6 799.8,1124.9 802.2,1129.8 804.6,1126.4 807.0,1127.5 809.4,1124.7 811.8,1124.6 814.2,1125.6 816.6,1125.3 819.0,1126.1 821.4,1123.4 823.8,1124.9 826.2,1125.7 828.6,1122.0 831.0,1123.9 833.4,1121.1 835.8,1122.3 838.2,1122.0 840.6,1123.3 843.0,1119.8 845.4,1120.5 847.8,1121.2 850.2,1117.9 852.6,1119.0 855.0,1117.4 857.4,1117.2 859.8,1118.5 862.2,1118.0 864.6,1120.0 867.0,1117.8 869.4,1117.2 871.8,1114.7 874.2,1113.8 876.6,1113.7 879.0,1109.8 881.4,1114.1 883.8,1110.2 886.2,1108.7 888.6,1108.5 891.0,1109.2 893.4,1108.6 895.8,1105.3 898.2,1105.2 900.6,1103.4 903.0,1100.9 905.4,1101.2 907.8,1099.8 910.2,1096.5 912.6,1098.6 915.0,1093.9 917.4,1094.9 919.8,1091.9 922.2,1090.8 924.6,1089.5 927.0,1089.8 929.4,1085.7 931.8,1085.5 934.2,1086.2 936.6,1081.7 939.0,1080.9 941.4,1080.2 943.8,1077.0 946.2,1076.7 948.6,1073.5 951.0,1073.5 953.4,1070.9 955.8,1067.7 958.2,1068.7 960.6,1064.7 963.0,1062.4 965.4,1059.8 967.8,1056.2 970.2,1058.2 972.6,1057.6 975.0,1058.0 977.4,1054.2 979.8,1054.9 982.2,1056.5 984.6,1054.9 987.0,1054.9 989.4,1056.2 991.8,1054.4 994.2,1054.4 996.6,1053.7 999.0,1056.3 1001.4,1056.9 1003.8,1058.4 1006.2,1063.4 1008.6,1069.8 1011.0,1078.1 1013.4,1081.4 1015.8,1083.0 1018.2,1084.9 1020.6,1085.0 1023.0,1084.2 1025.4,1090.5 1027.8,1091.7 1030.2,1094.5 1032.6,1094.1 1035.0,1095.7 1037.4,1097.1 1039.8,1097.9 1042.2,1104.4 1044.6,1102.7 1047.0,1104.0 1049.4,1107.1 1051.8,1103.2 1054.2,1108.4 1056.6,1109.4 1059.0,1108.9 1061.4,1111.4 1063.8,1108.7 1066.2,1111.9 1068.6,1113.4 1071.0,1109.7 1073.4,1110.9 1075.8,1112.6 1078.2,1112.5 1080.6,1111.0 1083.0,1111.3 1085.4,1109.8 1087.8,1106.3 1090.2,1106.3 1092.6,1103.1 1095.0,1100.5 1097.4,1098.7 1099.8,1102.0 1102.2,1099.4 1104.6,1101.2 1107.0,1095.9 1109.4,1096.5 1111.8,1096.5 1114.2,1094.9 1116.6,1094.6 1119.0,1092.8 1121.4,1090.1 1123.8,1085.9 1126.2,1085.6 1128.6,1086.9 1131.0,1080.7 1133.4,1082.4 1135.8,1078.3 1138.2,1077.6 1140.6,1075.7 1143.0,1076.5 1145.4,1075.3 1147.8,1075.0 1150.2,1075.7 1152.6,1071.0 1155.0,1071.1 1157.4,1065.4 1159.8,1064.9 1162.2,1058.7 1164.6,1054.8 1167.0,1050.5 1169.4,1047.5 1171.8,1040.1 1174.2,1033.6 1176.6,1026.6 1179.0,1022.2 1181.4,1015.0 1183.8,1006.7 1186.2,998.4 1188.6,989.7 1191.0,978.3 1193.4,969.2 1195.8,955.9 1198.2,926.1 1200.6,916.5 1203.0,900.2 1205.4,882.6 1207.8,873.4 1210.2,865.8 1212.6,860.0 1215.0,856.0 1217.4,855.2 1219.8,853.9 1222.2,856.7 1224.6,862.8 1227.0,871.2 1229.4,881.7 1231.8,888.5 1234.2,902.7 1236.6,918.3 1239.0,937.3 1241.4,953.3 1243.8,971.5 1246.2,990.5 1248.6,1003.5 1251.0,1016.7 1253.4,1030.0 1255.8,1034.2 1258.2,1035.7 1260.6,1029.8 1263.0,1027.4 1265.4,1018.4 1267.8,1012.9 1270.2,1005.5 1272.6,994.7 1275.0,988.3 1277.4,982.8 1279.8,968.2 1282.2,956.5 1284.6,936.9 1287.0,927.0 1289.4,910.7 1291.8,894.3 1294.2,881.0 1296.6,866.8 1299.0,849.8 1301.4,834.7 1303.8,818.0 1306.2,803.3 1308.6,792.1 1311.0,792.1 1313.4,792.7 1315.8,793.4 1318.2,796.8 1320.6,820.8 1323.0,848.4 1325.4,877.9 1327.8,901.6 1330.2,925.9 1332.6,950.6 1335.0,972.7 1337.4,999.8 1339.8,1023.4 1342.2,1048.5 1344.6,1069.3 1347.0,1081.1 1349.4,1088.3 1351.8,1094.6 1354.2,1101.5 1356.6,1112.7 1359.0,1131.1 1361.4,1146.0 1363.8,1157.6 1366.2,1169.5 1368.6,1179.3 1371.0,1189.3 1373.4,1200.6 1375.8,1208.2 1378.2,1215.6 1380.6,1220.7 1383.0,1224.7 1385.4,1231.0 1387.8,1233.9 1390.2,1238.9 1392.6,1241.5 1395.0,1247.2 1397.4,1251.2 1399.8,1256.7 1402.2,1262.8 1404.6,1267.1 1407.0,1268.0 1409.4,1268.6 1411.8,1271.4 1414.2,1272.2 1416.6,1272.4 1419.0,1274.4 1421.4,1275.2 1423.8,1275.8 1426.2,1279.3 1428.6,1278.1 1431.0,1278.5 1433.4,1280.9 1435.8,1278.6 1438.2,1280.1 1440.6,1281.2 1443.0,1283.7 1445.4,1284.3 1447.8,1284.7 1450.2,1284.2 1452.6,1283.9 1455.0,1286.3 1457.4,1283.3 1459.8,1284.7 1462.2,1283.1 1464.6,1284.0 1467.0,1284.0 1469.4,1285.3 1471.8,1279.5 1474.2,1284.5 1476.6,1281.1 1479.0,1282.0 1481.4,1282.1 1483.8,1279.4 1486.2,1279.6 1488.6,1279.7 1491.0,1278.2 1493.4,1276.7 1495.8,1277.2 1498.2,1276.4 1500.6,1273.5 1503.0,1276.3 1505.4,1273.9 1507.8,1269.4 1510.2,1270.4 1512.6,1272.6 1515.0,1271.2 1517.4,1268.3 1519.8,1264.5 1522.2,1265.2 1524.6,1265.6 1527.0,1263.4 1529.4,1261.2 1531.8,1259.4 1534.2,1260.1 1536.6,1257.5 1539.0,1256.9 1541.4,1253.6 1543.8,1256.2 1546.2,1253.0 1548.6,1251.8 1551.0,1245.7 1553.4,1250.0 1555.8,1248.1 1558.2,1245.3 1560.6,1240.5 1563.0,1240.8 1565.4,1239.3 1567.8,1239.4 1570.2,1234.7 1572.6,1231.9 1575.0,1230.8 1577.4,1226.1 1579.8,1219.4 1582.2,1216.3 1584.6,1212.3 1587.0,1212.5 1589.4,1206.3 1591.8,1203.1 1594.2,1197.5 1596.6,1194.6 1599.0,1188.9 1601.4,1188.3 1603.8,1180.4 1606.2,1180.2 1608.6,1175.2 1611.0,1168.1 1613.4,1168.1 1615.8,1165.4 1618.2,1160.9 1620.6,1162.3 1623.0,1159.7 1625.4,1159.5 1627.8,1156.9 1630.2,1157.0 1632.6,1156.6 1635.0,1154.8 1637.4,1153.1 1639.8,1152.4 1642.2,1149.9 1644.6,1150.3 1647.0,1145.5 1649.4,1150.2 1651.8,1148.2 1654.2,1148.7 1656.6,1149.4 1659.0,1146.9 1661.4,1152.1 1663.8,1148.8 1666.2,1152.5 1668.6,1154.3 1671.0,1157.8 1673.4,1158.6 1675.8,1159.6 1678.2,1165.5 1680.6,1165.7 1683.0,1171.9 1685.4,1173.9 1687.8,1178.4 1690.2,1177.6 1692.6,1178.9 1695.0,1180.1 1697.4,1181.9 1699.8,1184.4 1702.2,1188.3 1704.6,1188.1 1707.0,1191.7 1709.4,1191.8 1711.8,1198.7 1714.2,1196.6 1716.6,1196.0 1719.0,1198.0 1721.4,1199.9 1723.8,1201.6 1726.2,1202.5 1728.6,1201.6 1731.0,1200.5 1733.4,1199.4 1735.8,1201.7 1738.2,1201.2 1740.6,1198.3 1743.0,1198.1 1745.4,1193.9 1747.8,1192.6 1750.2,1194.1 1752.6,1190.0 1755.0,1191.5 1757.4,1190.7 1759.8,1189.8 1762.2,1191.2 1764.6,1186.9 1767.0,1186.4 1769.4,1182.9 1771.8,1182.8 1774.2,1182.1 1776.6,1179.1 1779.0,1180.0 1781.4,1179.6 1783.8,1177.3 1786.2,1174.5 1788.6,1176.2 1791.0,1175.4 1793.4,1172.1 1795.8,1171.2 1798.2,1173.0 1800.6,1170.2 1803.0,1168.0 1805.4,1162.3 1807.8,1160.9 1810.2,1156.7 1812.6,1154.4 1815.0,1149.6 1817.4,1145.4 1819.8,1141.9 1822.2,1137.5 1824.6,1134.1 1827.0,1126.6 1829.4,1125.3 1831.8,1117.6 1834.2,1106.8 1836.6,1099.6 1839.0,1087.7 1841.4,1078.5 1843.8,1069.6 1846.2,1056.1 1848.6,1049.6 1851.0,1039.3 1853.4,1030.6 1855.8,1022.3 1858.2,1013.7 1860.6,1006.4 1863.0,997.6 1865.4,987.4 1867.8,974.4 1870.2,962.1 1872.6,944.9 1875.0,932.4 1877.4,924.7 1879.8,918.7 1882.2,914.9 1884.6,919.0 1887.0,928.6 1889.4,940.3 1891.8,954.1 1894.2,961.9 1896.6,975.4 1899.0,995.4 1901.4,1019.3 1903.8,1046.1 1906.2,1068.6 1908.6,1089.8 1911.0,1111.2 1913.4,1135.9 1915.8,1160.8 1918.2,1184.5 1920.6,1206.5 1923.0,1231.7 1925.4,1250.3 1927.8,1268.4 1930.2,1279.6 1932.6,1292.5 1935.0,1305.4 1937.4,1312.4 1939.8,1319.1 1942.2,1328.9 1944.6,1332.3 1947.0,1337.9 1949.4,1343.2 1951.8,1348.8 1954.2,1349.1 1956.6,1355.5 1959.0,1362.2 1961.4,1364.9 1963.8,1365.7 1966.2,1374.0 1968.6,1377.7 1971.0,1381.9 1973.4,1384.3 1975.8,1386.5 1978.2,1390.2 1980.6,1392.6 1983.0,1394.6 1985.4,1398.1 1987.8,1400.6 1990.2,1400.9 1992.6,1405.6 1995.0,1407.1 1997.4,1408.8 1999.8,1405.9 2002.2,1411.2 2004.6,1412.4 2007.0,1412.6 2009.4,1415.9 2011.8,1414.3 2014.2,1418.8 2016.6,1418.6 2019.0,1418.2 2021.4,1421.5 2023.8,1420.9 2026.2,1421.4 2028.6,1419.9 2031.0,1422.9 2033.4,1424.6 2035.8,1424.7 2038.2,1422.0 2040.6,1424.6 2043.0,1426.6 2045.4,1426.1 2047.8,1424.9 2050.2,1423.8 2052.6,1424.9 2055.0,1425.7 2057.4,1427.1 2059.8,1427.8 2062.2,1426.4 2064.6,1425.4 2067.0,1427.2 2069.4,1426.2 2071.8,1429.8 2074.2,1426.6 2076.6,1429.0 2079.0,1427.7 2081.4,1427.3 2083.8,1430.0 2086.2,1428.6 2088.6,1427.8 2091.0,1427.7 2093.4,1429.2 2095.8,1430.6 2098.2,1426.8 2100.6,1430.2 2103.0,1429.2 2105.4,1425.5 2107.8,1429.5 2110.2,1429.7 2112.6,1429.7 2115.0,1430.9 2117.4,1428.7 2119.8,1432.5 2122.2,1431.2 2124.6,1429.3 2127.0,1427.6 2129.4,1430.2 2131.8,1429.7 2134.2,1431.2 2136.6,1431.3 2139.0,1432.9 2141.4,1430.2 2143.8,1431.4 2146.2,1429.9 2148.6,1430.0 2151.0,1432.5 2153.4,1430.3 2155.8,1430.4 2158.2,1430.1 2160.6,1431.0 2163.0,1431.3 2165.4,1430.4 2167.8,1429.1 2170.2,1431.1 2172.6,1429.5 2175.0,1430.2 2177.4,1430.9 2179.8,1431.0 2182.2,1427.6 2184.6,1432.9 2187.0,1431.8 2189.4,1433.3 2191.8,1434.0 2194.2,1429.5 2196.6,1430.0 2199.0,1431.1 2201.4,1430.2 2203.8,1430.1 2206.2,1430.4 2208.6,1432.2 2211.0,1429.6 2213.4,1436.0 2215.8,1432.2 2218.2,1430.5 2220.6,1431.8 2223.0,1430.7 2225.4,1428.7 2227.8,1430.1 2230.2,1430.6 2232.6,1430.4 2235.0,1430.9 2237.4,1431.3 2239.8,1431.2 2242.2,1431.1 2244.6,1430.3 2247.0,1430.5 2249.4,1430.3 2251.8,1430.1 2254.2,1432.6 2256.6,1428.3 2259.0,1431.1 2261.4,1428.7 2263.8,1430.0 2266.2,1431.9 2268.6,1430.4 2271.0,1432.6 2273.4,1429.6 2275.8,1430.4 2278.2,1430.0 2280.6,1430.8 2283.0,1430.4 2285.4,1430.3 2287.8,1430.9 2290.2,1431.2 2292.6,1431.0 2295.0,1430.8 2297.4,1430.4 2299.8,1429.8 2302.2,1428.8 2304.6,1429.4 2307.0,1430.8" fill="none" stroke="#ff8000" stroke-width="10" stroke-linejoin="round" stroke-linecap="round"/><polyline points="1586.8,1295.1 1587.8,1295.3 1588.8,1295.5 1589.8,1295.7 1590.8,1295.9 1591.8,1296.1 1592.8,1296.3 1593.8,1296.4 1594.8,1296.6 1595.8,1296.8 1596.8,1297.0 1597.8,1297.2 1598.8,1297.4 1599.8,1297.6 1600.8,1297.8 1601.8,1298.0 1602.8,1298.2 1603.8,1298.4 1604.8,1298.6 1605.8,1298.8 1606.8,1299.0 1607.8,1299.2 1608.8,1299.4 1609.8,1299.7 1610.8,1299.9 1611.8,1300.1 1612.8,1300.3 1613.8,1300.5 1614.8,1300.7 1615.8,1300.9 1616.8,1301.1 1617.8,1301.4 1618.8,1301.6 1619.8,1301.8 1620.8,1302.0 1621.8,1302.3 1622.8,1302.5 1623.8,1302.7 1624.8,1302.9 1625.8,1303.2 1626.8,1303.4 1627.8,1303.7 1628.8,1303.9 1629.8,1304.1 1630.8,1304.4 1631.8,1304.6 1632.8,1304.9 1633.8,1305.1 1634.8,1305.4 1635.8,1305.6 1636.8,1305.8 1637.8,1306.1 1638.8,1306.3 1639.8,1306.6 1640.8,1306.8 1641.8,1307.1 1642.8,1307.3 1643.8,1307.6 1644.8,1307.8 1645.8,1308.1 1646.8,1308.3 1647.8,1308.6 1648.8,1308.8 1649.8,1309.0 1650.8,1309.3 1651.8,1309.5 1652.8,1309.8 1653.8,1310.0 1654.8,1310.3 1655.8,1310.5 1656.8,1310.7 1657.8,1311.0 1658.8,1311.2 1659.8,1311.4 1660.8,1311.7 1661.8,1311.9 1662.8,1312.1 1663.8,1312.4 1664.8,1312.6 1665.8,1312.8 1666.8,1313.1 1667.8,1313.3 1668.8,1313.5 1669.8,1313.8 1670.8,1314.0 1671.8,1314.2 1672.8,1314.4 1673.8,1314.7 1674.8,1314.9 1675.8,1315.1 1676.8,1315.4 1677.8,1315.6 1678.8,1315.8 1679.8,1316.1 1680.8,1316.3 1681.8,1316.5 1682.8,1316.7 1683.8,1317.0 1684.8,1317.2 1685.8,1317.4 1686.8,1317.6 1687.8,1317.9 1688.8,1318.1 1689.8,1318.3 1690.8,1318.5 1691.8,1318.7 1692.8,1318.9 1693.8,1319.2 1694.8,1319.4 1695.8,1319.6 1696.8,1319.8 1697.8,1320.0 1698.8,1320.2 1699.8,1320.4 1700.8,1320.6 1701.8,1320.9 1702.8,1321.1 1703.8,1321.3 1704.8,1321.5 1705.8,1321.7 1706.8,1321.9 1707.8,1322.0 1708.8,1322.2 1709.8,1322.4 1710.8,1322.6 1711.8,1322.8 1712.8,1323.0 1713.8,1323.2 1714.8,1323.3 1715.8,1323.5 1716.8,1323.7 1717.8,1323.9 1718.8,1324.0 1719.8,1324.2 1720.8,1324.3 1721.8,1324.5 1722.8,1324.7 1723.8,1324.8 1724.8,1325.0 1725.8,1325.1 1726.8,1325.3 1727.8,1325.4 1728.8,1325.6 1729.8,1325.7 1730.8,1325.9 1731.8,1326.0 1732.8,1326.2 1733.8,1326.3 1734.8,1326.5 1735.8,1326.6 1736.8,1326.8 1737.8,1326.9 1738.8,1327.1 1739.8,1327.2 1740.8,1327.4 1741.8,1327.5 1742.8,1327.7 1743.8,1327.8 1744.8,1328.0 1745.8,1328.1 1746.8,1328.3 1747.8,1328.5 1748.8,1328.6 1749.8,1328.8 1750.8,1328.9 1751.8,1329.1 1752.8,1329.2 1753.8,1329.4 1754.8,1329.6 1755.8,1329.7 1756.8,1329.9 1757.8,1330.1 1758.8,1330.3 1759.8,1330.4 1760.8,1330.6 1761.8,1330.8 1762.8,1330.9 1763.8,1331.1 1764.8,1331.3 1765.8,1331.4 1766.8,1331.6 1767.8,1331.7 1768.8,1331.8 1769.8,1331.9 1770.8,1332.0 1771.8,1332.1 1772.8,1332.2 1773.8,1332.2 1774.8,1332.3 1775.8,1332.3 1776.8,1332.3 1777.8,1332.3 1778.8,1332.2 1779.8,1332.1 1780.8,1332.0 1781.8,1331.9 1782.8,1331.7 1783.8,1331.5 1784.8,1331.3 1785.8,1331.0 1786.8,1330.7 1787.8,1330.4 1788.8,1330.0 1789.8,1329.5 1790.8,1329.0 1791.8,1328.4 1792.8,1327.8 1793.8,1327.1 1794.8,1326.3 1795.8,1325.5 1796.8,1324.5 1797.8,1323.5 1798.8,1322.4 1799.8,1321.2 1800.8,1319.9 1801.8,1318.5 1802.8,1317.0 1803.8,1315.4 1804.8,1313.6 1805.8,1311.7 1806.8,1309.7 1807.8,1307.5 1808.8,1305.2 1809.8,1302.7 1810.8,1300.0 1811.8,1297.2 1812.8,1294.2 1813.8,1291.0 1814.8,1287.7 1815.8,1284.1 1816.8,1280.3 1817.8,1276.4 1818.8,1272.2 1819.8,1267.8 1820.8,1263.2 1821.8,1258.3 1822.8,1253.3 1823.8,1248.0 1824.8,1242.5 1825.8,1236.7 1826.8,1230.7 1827.8,1224.5 1828.8,1218.1 1829.8,1211.5 1830.8,1204.6 1831.8,1197.5 1832.8,1190.2 1833.8,1182.7 1834.8,1175.0 1835.8,1167.1 1836.8,1159.0 1837.8,1150.8 1838.8,1142.4 1839.8,1133.9 1840.8,1125.3 1841.8,1116.5 1842.8,1107.7 1843.8,1098.7 1844.8,1089.7 1845.8,1080.7 1846.8,1071.7 1847.8,1062.6 1848.8,1053.6 1849.8,1044.7 1850.8,1035.8 1851.8,1027.0 1852.8,1018.4 1853.8,1009.9 1854.8,1001.5 1855.8,993.4 1856.8,985.6 1857.8,978.0 1858.8,970.7 1859.8,963.7 1860.8,957.1 1861.8,950.8 1862.8,945.0 1863.8,939.6 1864.8,934.7 1865.8,930.2 1866.8,926.3 1867.8,922.9 1868.8,920.1 1869.8,917.8 1870.8,916.2 1871.8,915.1 1872.8,914.6 1873.8,914.8 1874.8,915.5 1875.8,916.9 1876.8,918.8 1877.8,921.4 1878.8,924.5 1879.8,928.2 1880.8,932.5 1881.8,937.3 1882.8,942.6 1883.8,948.4 1884.8,954.7 1885.8,961.4 1886.8,968.6 1887.8,976.1 1888.8,984.0 1889.8,992.3 1890.8,1000.8 1891.8,1009.7 1892.8,1018.8 1893.8,1028.1 1894.8,1037.6 1895.8,1047.3 1896.8,1057.2 1897.8,1067.1 1898.8,1077.2 1899.8,1087.3 1900.8,1097.4 1901.8,1107.6 1902.8,1117.8 1903.8,1127.9 1904.8,1138.0 1905.8,1148.0 1906.8,1157.9 1907.8,1167.7 1908.8,1177.3 1909.8,1186.9 1910.8,1196.2 1911.8,1205.4 1912.8,1214.4 1913.8,1223.3 1914.8,1231.9 1915.8,1240.3 1916.8,1248.5 1917.8,1256.5 1918.8,1264.3 1919.8,1271.8 1920.8,1279.1 1921.8,1286.2 1922.8,1293.0 1923.8,1299.6 1924.8,1306.0 1925.8,1312.1 1926.8,1318.0 1927.8,1323.6 1928.8,1329.0 1929.8,1334.2 1930.8,1339.2 1931.8,1343.9 1932.8,1348.5 1933.8,1352.8 1934.8,1356.9 1935.8,1360.8 1936.8,1364.5 1937.8,1368.1 1938.8,1371.4 1939.8,1374.6 1940.8,1377.6 1941.8,1380.4 1942.8,1383.1 1943.8,1385.7 1944.8,1388.1 1945.8,1390.3 1946.8,1392.4 1947.8,1394.4 1948.8,1396.3 1949.8,1398.1 1950.8,1399.8 1951.8,1401.3 1952.8,1402.8 1953.8,1404.2 1954.8,1405.5 1955.8,1406.7 1956.8,1407.8 1957.8,1408.9 1958.8,1409.9 1959.8,1410.9 1960.8,1411.8 1961.8,1412.6 1962.8,1413.4 1963.8,1414.2 1964.8,1414.9 1965.8,1415.5 1966.8,1416.1 1967.8,1416.7 1968.8,1417.3 1969.8,1417.8 1970.8,1418.3 1971.8,1418.8 1972.8,1419.2 1973.8,1419.7 1974.8,1420.1 1975.8,1420.5 1976.8,1420.8 1977.8,1421.2 1978.8,1421.5 1979.8,1421.8 1980.8,1422.1 1981.8,1422.4 1982.8,1422.7 1983.8,1423.0 1984.8,1423.2 1985.8,1423.5 1986.8,1423.7 1987.8,1423.9 1988.8,1424.1 1989.8,1424.3 1990.8,1424.6 1991.8,1424.7 1992.8,1424.9 1993.8,1425.1 1994.8,1425.3 1995.8,1425.5 1996.8,1425.6 1997.8,1425.8 1998.8,1425.9 1999.8,1426.1 2000.8,1426.2 2001.8,1426.4 2002.8,1426.5 2003.8,1426.6 2004.8,1426.8 2005.8,1426.9 2006.8,1427.0 2007.8,1427.2 2008.8,1427.3 2009.8,1427.4 2010.8,1427.5 2011.8,1427.6 2012.8,1427.7 2013.8,1427.9 2014.8,1428.0 2015.8,1428.1 2016.8,1428.2 2017.8,1428.3 2018.8,1428.4 2019.8,1428.5 2020.8,1428.6 2021.8,1428.7 2022.8,1428.8 2023.8,1428.9 2024.8,1428.9 2025.8,1429.0 2026.8,1429.1 2027.8,1429.2 2028.8,1429.3 2029.8,1429.4 2030.8,1429.5 2031.8,1429.5 2032.8,1429.6 2033.8,1429.7 2034.8,1429.8 2035.8,1429.9 2036.8,1429.9 2037.8,1430.0 2038.8,1430.1 2039.8,1430.1 2040.8,1430.2 2041.8,1430.3 2042.8,1430.3 2043.8,1430.4 2044.8,1430.5 2045.8,1430.5 2046.8,1430.6 2047.8,1430.7 2048.8,1430.7 2049.8,1430.8 2050.8,1430.8 2051.8,1430.9 2052.8,1430.9 2053.8,1431.0 2054.8,1431.0 2055.8,1431.1 2056.8,1431.2 2057.8,1431.2 2058.8,1431.2 2059.8,1431.3 2060.8,1431.3 2061.8,1431.4 2062.8,1431.4 2063.8,1431.5 2064.8,1431.5 2065.8,1431.6 2066.8,1431.6 2067.8,1431.6 2068.8,1431.7 2069.8,1431.7 2070.8,1431.8 2071.8,1431.8 2072.8,1431.8 2073.8,1431.9 2074.8,1431.9 2075.8,1431.9 2076.8,1432.0 2077.8,1432.0 2078.8,1432.0 2079.8,1432.1 2080.8,1432.1 2081.8,1432.1 2082.8,1432.2 2083.8,1432.2 2084.8,1432.2 2085.8,1432.3 2086.8,1432.3 2087.8,1432.3 2088.8,1432.4 2089.8,1432.4 2090.8,1432.4 2091.8,1432.4 2092.8,1432.5 2093.8,1432.5 2094.8,1432.5 2095.8,1432.6 2096.8,1432.6 2097.8,1432.6 2098.8,1432.6 2099.8,1432.7 2100.8,1432.7 2101.8,1432.7 2102.8,1432.7 2103.8,1432.8 2104.8,1432.8 2105.8,1432.8 2106.8,1432.8 2107.8,1432.9 2108.8,1432.9 2109.8,1432.9 2110.8,1432.9 2111.8,1433.0 2112.8,1433.0 2113.8,1433.0 2114.8,1433.0 2115.8,1433.0 2116.8,1433.1 2117.8,1433.1 2118.8,1433.1 2119.8,1433.1 2120.8,1433.1 2121.8,1433.2 2122.8,1433.2 2123.8,1433.2 2124.8,1433.2 2125.8,1433.2 2126.8,1433.3 2127.8,1433.3 2128.8,1433.3 2129.8,1433.3 2130.8,1433.3 2131.8,1433.3 2132.8,1433.4 2133.8,1433.4 2134.8,1433.4 2135.8,1433.4 2136.8,1433.4 2137.8,1433.4 2138.8,1433.5 2139.8,1433.5 2140.8,1433.5 2141.8,1433.5 2142.8,1433.5 2143.8,1433.5 2144.8,1433.5 2145.8,1433.6 2146.8,1433.6 2147.8,1433.6 2148.8,1433.6 2149.8,1433.6 2150.8,1433.6 2151.8,1433.6 2152.8,1433.7 2153.8,1433.7 2154.8,1433.7 2155.8,1433.7 2156.8,1433.7 2157.8,1433.7 2158.8,1433.7 2159.8,1433.8 2160.8,1433.8 2161.8,1433.8" fill="none" stroke="#00ff00" stroke-width="10.5" stroke-linejoin="round" stroke-linecap="butt"/><polyline points="1580.8,1293.2 1581.8,1293.3 1582.8,1293.5 1583.8,1293.7 1584.8,1293.8 1585.8,1294.0 1586.8,1294.2 1587.8,1294.3 1588.8,1294.5 1589.8,1294.7 1590.8,1294.8 1591.8,1295.0 1592.8,1295.2 1593.8,1295.4 1594.8,1295.5 1595.8,1295.7 1596.8,1295.9 1597.8,1296.1 1598.8,1296.2 1599.8,1296.4 1600.8,1296.6 1601.8,1296.8 1602.8,1296.9 1603.8,1297.1 1604.8,1297.3 1605.8,1297.5 1606.8,1297.6 1607.8,1297.8 1608.8,1298.0 1609.8,1298.1 1610.8,1298.3 1611.8,1298.5 1612.8,1298.6 1613.8,1298.8 1614.8,1299.0 1615.8,1299.1 1616.8,1299.3 1617.8,1299.5 1618.8,1299.6 1619.8,1299.8 1620.8,1300.0 1621.8,1300.1 1622.8,1300.3 1623.8,1300.5 1624.8,1300.6 1625.8,1300.8 1626.8,1300.9 1627.8,1301.1 1628.8,1301.2 1629.8,1301.4 1630.8,1301.6 1631.8,1301.7 1632.8,1301.8 1633.8,1302.0 1634.8,1302.1 1635.8,1302.2 1636.8,1302.4 1637.8,1302.5 1638.8,1302.6 1639.8,1302.7 1640.8,1302.8 1641.8,1302.9 1642.8,1303.0 1643.8,1303.1 1644.8,1303.2 1645.8,1303.2 1646.8,1303.3 1647.8,1303.4 1648.8,1303.4 1649.8,1303.4 1650.8,1303.5 1651.8,1303.5 1652.8,1303.5 1653.8,1303.5 1654.8,1303.5 1655.8,1303.5 1656.8,1303.4 1657.8,1303.4 1658.8,1303.3 1659.8,1303.2 1660.8,1303.2 1661.8,1303.1 1662.8,1303.0 1663.8,1302.8 1664.8,1302.7 1665.8,1302.6 1666.8,1302.4 1667.8,1302.2 1668.8,1302.0 1669.8,1301.8 1670.8,1301.6 1671.8,1301.4 1672.8,1301.1 1673.8,1300.9 1674.8,1300.6 1675.8,1300.3 1676.8,1300.0 1677.8,1299.7 1678.8,1299.3 1679.8,1299.0 1680.8,1298.6 1681.8,1298.2 1682.8,1297.7 1683.8,1297.3 1684.8,1296.8 1685.8,1296.4 1686.8,1295.9 1687.8,1295.4 1688.8,1294.8 1689.8,1294.3 1690.8,1293.7 1691.8,1293.1 1692.8,1292.5 1693.8,1291.8 1694.8,1291.2 1695.8,1290.5 1696.8,1289.8 1697.8,1289.0 1698.8,1288.3 1699.8,1287.5 1700.8,1286.7 1701.8,1285.9 1702.8,1285.1 1703.8,1284.2 1704.8,1283.4 1705.8,1282.5 1706.8,1281.6 1707.8,1280.6 1708.8,1279.7 1709.8,1278.7 1710.8,1277.7 1711.8,1276.7 1712.8,1275.6 1713.8,1274.6 1714.8,1273.5 1715.8,1272.4 1716.8,1271.3 1717.8,1270.2 1718.8,1269.0 1719.8,1267.8 1720.8,1266.7 1721.8,1265.5 1722.8,1264.3 1723.8,1263.1 1724.8,1261.9 1725.8,1260.6 1726.8,1259.4 1727.8,1258.1 1728.8,1256.9 1729.8,1255.6 1730.8,1254.3 1731.8,1253.1 1732.8,1251.8 1733.8,1250.5 1734.8,1249.3 1735.8,1248.0 1736.8,1246.7 1737.8,1245.4 1738.8,1244.2 1739.8,1242.9 1740.8,1241.7 1741.8,1240.4 1742.8,1239.2 1743.8,1238.0 1744.8,1236.8 1745.8,1235.6 1746.8,1234.5 1747.8,1233.3 1748.8,1232.2 1749.8,1231.1 1750.8,1230.0 1751.8,1229.0 1752.8,1227.9 1753.8,1226.9 1754.8,1226.0 1755.8,1225.0 1756.8,1224.1 1757.8,1223.3 1758.8,1222.5 1759.8,1221.7 1760.8,1220.9 1761.8,1220.2 1762.8,1219.6 1763.8,1218.9 1764.8,1218.4 1765.8,1217.8 1766.8,1217.3 1767.8,1216.9 1768.8,1216.5 1769.8,1216.1 1770.8,1215.8 1771.8,1215.6 1772.8,1215.3 1773.8,1215.2 1774.8,1215.1 1775.8,1215.0 1776.8,1215.0 1777.8,1215.0 1778.8,1215.1 1779.8,1215.3 1780.8,1215.5 1781.8,1215.7 1782.8,1216.0 1783.8,1216.4 1784.8,1216.8 1785.8,1217.3 1786.8,1217.8 1787.8,1218.4 1788.8,1219.0 1789.8,1219.7 1790.8,1220.5 1791.8,1221.3 1792.8,1222.2 1793.8,1223.1 1794.8,1224.0 1795.8,1225.1 1796.8,1226.1 1797.8,1227.3 1798.8,1228.4 1799.8,1229.7 1800.8,1230.9 1801.8,1232.2 1802.8,1233.6 1803.8,1235.0 1804.8,1236.4 1805.8,1237.9 1806.8,1239.5 1807.8,1241.0 1808.8,1242.6 1809.8,1244.3 1810.8,1245.9 1811.8,1247.6 1812.8,1249.3 1813.8,1251.1 1814.8,1252.9 1815.8,1254.7 1816.8,1256.5 1817.8,1258.4 1818.8,1260.2 1819.8,1262.1 1820.8,1264.0 1821.8,1265.9 1822.8,1267.8 1823.8,1269.8 1824.8,1271.7 1825.8,1273.7 1826.8,1275.7 1827.8,1277.6 1828.8,1279.6 1829.8,1281.6 1830.8,1283.5 1831.8,1285.5 1832.8,1287.5 1833.8,1289.5 1834.8,1291.4 1835.8,1293.4 1836.8,1295.4 1837.8,1297.3 1838.8,1299.3 1839.8,1301.2 1840.8,1303.2 1841.8,1305.1 1842.8,1307.0 1843.8,1308.9 1844.8,1310.8 1845.8,1312.7 1846.8,1314.6 1847.8,1316.5 1848.8,1318.4 1849.8,1320.2 1850.8,1322.1 1851.8,1323.9 1852.8,1325.8 1853.8,1327.6 1854.8,1329.4 1855.8,1331.2 1856.8,1333.0 1857.8,1334.8 1858.8,1336.5 1859.8,1338.3 1860.8,1340.0 1861.8,1341.8 1862.8,1343.5 1863.8,1345.2 1864.8,1347.0 1865.8,1348.7 1866.8,1350.4 1867.8,1352.1 1868.8,1353.8 1869.8,1355.5 1870.8,1357.2 1871.8,1358.9 1872.8,1360.6 1873.8,1362.2 1874.8,1363.9 1875.8,1365.5 1876.8,1367.2 1877.8,1368.8 1878.8,1370.3 1879.8,1371.9 1880.8,1373.4 1881.8,1374.9 1882.8,1376.4 1883.8,1377.9 1884.8,1379.3 1885.8,1380.7 1886.8,1382.1 1887.8,1383.4 1888.8,1384.7 1889.8,1386.0 1890.8,1387.3 1891.8,1388.5 1892.8,1389.7 1893.8,1390.9 1894.8,1392.1 1895.8,1393.2 1896.8,1394.3 1897.8,1395.4 1898.8,1396.5 1899.8,1397.5 1900.8,1398.5 1901.8,1399.5 1902.8,1400.4 1903.8,1401.4 1904.8,1402.3 1905.8,1403.1 1906.8,1404.0 1907.8,1404.8 1908.8,1405.6 1909.8,1406.4 1910.8,1407.1 1911.8,1407.8 1912.8,1408.5 1913.8,1409.2 1914.8,1409.8 1915.8,1410.4 1916.8,1411.0 1917.8,1411.6 1918.8,1412.1 1919.8,1412.7 1920.8,1413.2 1921.8,1413.7 1922.8,1414.2 1923.8,1414.7 1924.8,1415.2 1925.8,1415.6 1926.8,1416.1 1927.8,1416.5 1928.8,1416.9 1929.8,1417.3 1930.8,1417.7 1931.8,1418.1 1932.8,1418.5 1933.8,1418.8 1934.8,1419.2 1935.8,1419.5 1936.8,1419.9 1937.8,1420.2 1938.8,1420.5 1939.8,1420.8 1940.8,1421.1 1941.8,1421.4 1942.8,1421.7 1943.8,1421.9 1944.8,1422.2 1945.8,1422.5 1946.8,1422.7 1947.8,1422.9 1948.8,1423.2 1949.8,1423.4 1950.8,1423.6 1951.8,1423.9 1952.8,1424.1 1953.8,1424.3 1954.8,1424.5 1955.8,1424.7 1956.8,1424.9 1957.8,1425.1 1958.8,1425.3 1959.8,1425.4 1960.8,1425.6 1961.8,1425.8 1962.8,1426.0 1963.8,1426.2 1964.8,1426.3 1965.8,1426.5 1966.8,1426.7 1967.8,1426.8 1968.8,1427.0 1969.8,1427.1 1970.8,1427.3 1971.8,1427.4 1972.8,1427.6 1973.8,1427.7 1974.8,1427.8 1975.8,1428.0 1976.8,1428.1 1977.8,1428.2 1978.8,1428.4 1979.8,1428.5 1980.8,1428.6 1981.8,1428.7 1982.8,1428.8 1983.8,1429.0 1984.8,1429.1" fill="none" stroke="#0000ff" stroke-width="10.5" stroke-linejoin="round" stroke-linecap="butt"/><polyline points="1465.8,1286.7 1466.8,1286.7 1467.8,1286.7 1468.8,1286.7 1469.8,1286.7 1470.8,1286.6 1471.8,1286.6 1472.8,1286.6 1473.8,1286.6 1474.8,1286.6 1475.8,1286.5 1476.8,1286.5 1477.8,1286.5 1478.8,1286.5 1479.8,1286.4 1480.8,1286.4 1481.8,1286.3 1482.8,1286.3 1483.8,1286.3 1484.8,1286.2 1485.8,1286.1 1486.8,1286.1 1487.8,1286.0 1488.8,1286.0 1489.8,1285.9 1490.8,1285.8 1491.8,1285.7 1492.8,1285.6 1493.8,1285.5 1494.8,1285.4 1495.8,1285.3 1496.8,1285.2 1497.8,1285.0 1498.8,1284.9 1499.8,1284.8 1500.8,1284.6 1501.8,1284.5 1502.8,1284.3 1503.8,1284.1 1504.8,1283.9 1505.8,1283.7 1506.8,1283.5 1507.8,1283.3 1508.8,1283.1 1509.8,1282.8 1510.8,1282.6 1511.8,1282.3 1512.8,1282.0 1513.8,1281.7 1514.8,1281.4 1515.8,1281.1 1516.8,1280.8 1517.8,1280.4 1518.8,1280.1 1519.8,1279.7 1520.8,1279.3 1521.8,1278.9 1522.8,1278.5 1523.8,1278.0 1524.8,1277.5 1525.8,1277.1 1526.8,1276.6 1527.8,1276.1 1528.8,1275.5 1529.8,1275.0 1530.8,1274.4 1531.8,1273.8 1532.8,1273.2 1533.8,1272.6 1534.8,1271.9 1535.8,1271.2 1536.8,1270.5 1537.8,1269.8 1538.8,1269.1 1539.8,1268.3 1540.8,1267.5 1541.8,1266.7 1542.8,1265.8 1543.8,1265.0 1544.8,1264.1 1545.8,1263.2 1546.8,1262.2 1547.8,1261.3 1548.8,1260.3 1549.8,1259.3 1550.8,1258.2 1551.8,1257.2 1552.8,1256.1 1553.8,1255.0 1554.8,1253.8 1555.8,1252.7 1556.8,1251.5 1557.8,1250.3 1558.8,1249.0 1559.8,1247.8 1560.8,1246.5 1561.8,1245.2 1562.8,1243.8 1563.8,1242.5 1564.8,1241.1 1565.8,1239.7 1566.8,1238.3 1567.8,1236.9 1568.8,1235.4 1569.8,1234.0 1570.8,1232.5 1571.8,1231.0 1572.8,1229.5 1573.8,1227.9 1574.8,1226.4 1575.8,1224.8 1576.8,1223.2 1577.8,1221.6 1578.8,1220.0 1579.8,1218.4 1580.8,1216.8 1581.8,1215.1 1582.8,1213.5 1583.8,1211.8 1584.8,1210.2 1585.8,1208.5 1586.8,1206.8 1587.8,1205.1 1588.8,1203.5 1589.8,1201.8 1590.8,1200.1 1591.8,1198.4 1592.8,1196.7 1593.8,1195.0 1594.8,1193.4 1595.8,1191.7 1596.8,1190.0 1597.8,1188.4 1598.8,1186.7 1599.8,1185.1 1600.8,1183.5 1601.8,1181.9 1602.8,1180.3 1603.8,1178.7 1604.8,1177.2 1605.8,1175.7 1606.8,1174.1 1607.8,1172.7 1608.8,1171.2 1609.8,1169.8 1610.8,1168.4 1611.8,1167.1 1612.8,1165.7 1613.8,1164.4 1614.8,1163.2 1615.8,1162.0 1616.8,1160.8 1617.8,1159.7 1618.8,1158.6 1619.8,1157.6 1620.8,1156.6 1621.8,1155.7 1622.8,1154.8 1623.8,1153.9 1624.8,1153.2 1625.8,1152.4 1626.8,1151.8 1627.8,1151.1 1628.8,1150.6 1629.8,1150.1 1630.8,1149.6 1631.8,1149.3 1632.8,1148.9 1633.8,1148.7 1634.8,1148.5 1635.8,1148.3 1636.8,1148.3 1637.8,1148.2 1638.8,1148.3 1639.8,1148.4 1640.8,1148.6 1641.8,1148.8 1642.8,1149.1 1643.8,1149.5 1644.8,1149.9 1645.8,1150.4 1646.8,1150.9 1647.8,1151.6 1648.8,1152.2 1649.8,1153.0 1650.8,1153.8 1651.8,1154.6 1652.8,1155.5 1653.8,1156.5 1654.8,1157.5 1655.8,1158.6 1656.8,1159.7 1657.8,1160.9 1658.8,1162.1 1659.8,1163.4 1660.8,1164.8 1661.8,1166.2 1662.8,1167.6 1663.8,1169.1 1664.8,1170.6 1665.8,1172.2 1666.8,1173.8 1667.8,1175.5 1668.8,1177.2 1669.8,1178.9 1670.8,1180.7 1671.8,1182.5 1672.8,1184.3 1673.8,1186.2 1674.8,1188.1 1675.8,1190.0 1676.8,1191.9 1677.8,1193.9 1678.8,1195.9 1679.8,1197.9 1680.8,1200.0 1681.8,1202.0 1682.8,1204.1 1683.8,1206.2 1684.8,1208.3 1685.8,1210.4 1686.8,1212.5 1687.8,1214.6 1688.8,1216.7 1689.8,1218.9 1690.8,1221.0 1691.8,1223.1 1692.8,1225.3 1693.8,1227.4 1694.8,1229.5 1695.8,1231.7 1696.8,1233.8 1697.8,1235.9 1698.8,1238.0 1699.8,1240.1 1700.8,1242.2 1701.8,1244.2 1702.8,1246.3 1703.8,1248.3 1704.8,1250.4 1705.8,1252.4 1706.8,1254.4 1707.8,1256.3 1708.8,1258.3 1709.8,1260.2 1710.8,1262.1 1711.8,1264.0 1712.8,1265.9 1713.8,1267.7 1714.8,1269.5 1715.8,1271.3 1716.8,1273.1 1717.8,1274.8 1718.8,1276.6 1719.8,1278.2 1720.8,1279.9 1721.8,1281.5 1722.8,1283.2 1723.8,1284.7 1724.8,1286.3 1725.8,1287.8 1726.8,1289.3 1727.8,1290.8 1728.8,1292.2 1729.8,1293.7 1730.8,1295.1 1731.8,1296.4 1732.8,1297.8 1733.8,1299.1 1734.8,1300.4 1735.8,1301.6 1736.8,1302.9 1737.8,1304.1 1738.8,1305.3 1739.8,1306.5 1740.8,1307.6 1741.8,1308.7 1742.8,1309.8 1743.8,1310.9 1744.8,1312.0 1745.8,1313.0 1746.8,1314.0 1747.8,1315.0 1748.8,1316.0 1749.8,1316.9 1750.8,1317.9 1751.8,1318.8 1752.8,1319.7 1753.8,1320.6 1754.8,1321.5 1755.8,1322.3 1756.8,1323.2 1757.8,1324.0 1758.8,1324.8 1759.8,1325.6 1760.8,1326.4 1761.8,1327.2 1762.8,1328.0 1763.8,1328.7 1764.8,1329.5 1765.8,1330.2 1766.8,1330.9 1767.8,1331.6 1768.8,1332.3 1769.8,1333.0 1770.8,1333.7 1771.8,1334.3 1772.8,1334.9 1773.8,1335.6 1774.8,1336.2 1775.8,1336.8 1776.8,1337.3 1777.8,1337.9 1778.8,1338.5 1779.8,1339.0 1780.8,1339.6 1781.8,1340.1 1782.8,1340.6 1783.8,1341.1 1784.8,1341.6 1785.8,1342.1 1786.8,1342.6 1787.8,1343.1 1788.8,1343.6 1789.8,1344.1 1790.8,1344.6 1791.8,1345.0 1792.8,1345.5 1793.8,1346.0 1794.8,1346.4 1795.8,1346.9 1796.8,1347.4 1797.8,1347.8 1798.8,1348.3 1799.8,1348.8 1800.8,1349.3 1801.8,1349.7 1802.8,1350.2 1803.8,1350.7 1804.8,1351.2 1805.8,1351.6 1806.8,1352.1 1807.8,1352.6 1808.8,1353.1 1809.8,1353.6 1810.8,1354.1 1811.8,1354.6 1812.8,1355.1 1813.8,1355.6 1814.8,1356.1 1815.8,1356.6 1816.8,1357.1 1817.8,1357.6" fill="none" stroke="#00ff00" stroke-width="10.5" stroke-linejoin="round" stroke-linecap="butt"/><polyline points="1053.8,1169.1 1054.8,1169.3 1055.8,1169.4 1056.8,1169.6 1057.8,1169.7 1058.8,1169.9 1059.8,1170.0 1060.8,1170.2 1061.8,1170.3 1062.8,1170.5 1063.8,1170.6 1064.8,1170.8 1065.8,1170.9 1066.8,1171.1 1067.8,1171.2 1068.8,1171.4 1069.8,1171.5 1070.8,1171.7 1071.8,1171.8 1072.8,1172.0 1073.8,1172.2 1074.8,1172.3 1075.8,1172.5 1076.8,1172.6 1077.8,1172.8 1078.8,1172.9 1079.8,1173.1 1080.8,1173.2 1081.8,1173.4 1082.8,1173.5 1083.8,1173.7 1084.8,1173.8 1085.8,1174.0 1086.8,1174.1 1087.8,1174.3 1088.8,1174.4 1089.8,1174.6 1090.8,1174.7 1091.8,1174.9 1092.8,1175.1 1093.8,1175.2 1094.8,1175.4 1095.8,1175.5 1096.8,1175.7 1097.8,1175.8 1098.8,1176.0 1099.8,1176.1 1100.8,1176.3 1101.8,1176.4 1102.8,1176.6 1103.8,1176.8 1104.8,1176.9 1105.8,1177.1 1106.8,1177.2 1107.8,1177.4 1108.8,1177.5 1109.8,1177.7 1110.8,1177.9 1111.8,1178.0 1112.8,1178.2 1113.8,1178.3 1114.8,1178.5 1115.8,1178.6 1116.8,1178.8 1117.8,1179.0 1118.8,1179.1 1119.8,1179.3 1120.8,1179.4 1121.8,1179.6 1122.8,1179.7 1123.8,1179.9 1124.8,1180.1 1125.8,1180.2 1126.8,1180.4 1127.8,1180.5 1128.8,1180.7 1129.8,1180.8 1130.8,1181.0 1131.8,1181.1 1132.8,1181.3 1133.8,1181.4 1134.8,1181.6 1135.8,1181.8 1136.8,1181.9 1137.8,1182.1 1138.8,1182.2 1139.8,1182.4 1140.8,1182.5 1141.8,1182.7 1142.8,1182.8 1143.8,1183.0 1144.8,1183.2 1145.8,1183.3 1146.8,1183.5 1147.8,1183.6 1148.8,1183.8 1149.8,1184.0 1150.8,1184.1 1151.8,1184.3 1152.8,1184.5 1153.8,1184.6 1154.8,1184.8 1155.8,1185.0 1156.8,1185.2 1157.8,1185.3 1158.8,1185.5 1159.8,1185.7 1160.8,1185.9 1161.8,1186.1 1162.8,1186.3 1163.8,1186.4 1164.8,1186.6 1165.8,1186.8 1166.8,1187.0 1167.8,1187.2 1168.8,1187.4 1169.8,1187.6 1170.8,1187.9 1171.8,1188.1 1172.8,1188.3 1173.8,1188.5 1174.8,1188.7 1175.8,1189.0 1176.8,1189.2 1177.8,1189.4 1178.8,1189.7 1179.8,1189.9 1180.8,1190.1 1181.8,1190.4 1182.8,1190.6 1183.8,1190.9 1184.8,1191.1 1185.8,1191.4 1186.8,1191.6 1187.8,1191.9 1188.8,1192.1 1189.8,1192.4 1190.8,1192.6 1191.8,1192.9 1192.8,1193.1 1193.8,1193.4 1194.8,1193.6 1195.8,1193.9 1196.8,1194.1 1197.8,1194.4 1198.8,1194.6 1199.8,1194.9 1200.8,1195.1 1201.8,1195.3 1202.8,1195.6 1203.8,1195.8 1204.8,1196.0 1205.8,1196.2 1206.8,1196.4 1207.8,1196.6 1208.8,1196.8 1209.8,1197.0 1210.8,1197.2 1211.8,1197.3 1212.8,1197.5 1213.8,1197.6 1214.8,1197.7 1215.8,1197.8 1216.8,1197.8 1217.8,1197.8 1218.8,1197.8 1219.8,1197.8 1220.8,1197.7 1221.8,1197.5 1222.8,1197.3 1223.8,1197.1 1224.8,1196.8 1225.8,1196.4 1226.8,1196.0 1227.8,1195.4 1228.8,1194.8 1229.8,1194.1 1230.8,1193.3 1231.8,1192.4 1232.8,1191.4 1233.8,1190.3 1234.8,1189.1 1235.8,1187.7 1236.8,1186.2 1237.8,1184.5 1238.8,1182.7 1239.8,1180.7 1240.8,1178.6 1241.8,1176.2 1242.8,1173.7 1243.8,1171.1 1244.8,1168.2 1245.8,1165.1 1246.8,1161.8 1247.8,1158.3 1248.8,1154.5 1249.8,1150.6 1250.8,1146.4 1251.8,1141.9 1252.8,1137.3 1253.8,1132.4 1254.8,1127.2 1255.8,1121.8 1256.8,1116.1 1257.8,1110.2 1258.8,1104.1 1259.8,1097.7 1260.8,1091.0 1261.8,1084.2 1262.8,1077.0 1263.8,1069.7 1264.8,1062.1 1265.8,1054.3 1266.8,1046.2 1267.8,1038.0 1268.8,1029.6 1269.8,1021.0 1270.8,1012.3 1271.8,1003.3 1272.8,994.3 1273.8,985.2 1274.8,975.9 1275.8,966.6 1276.8,957.3 1277.8,947.9 1278.8,938.5 1279.8,929.1 1280.8,919.8 1281.8,910.6 1282.8,901.5 1283.8,892.5 1284.8,883.7 1285.8,875.1 1286.8,866.7 1287.8,858.7 1288.8,850.9 1289.8,843.4 1290.8,836.3 1291.8,829.7 1292.8,823.4 1293.8,817.6 1294.8,812.3 1295.8,807.6 1296.8,803.3 1297.8,799.7 1298.8,796.6 1299.8,794.2 1300.8,792.4 1301.8,791.2 1302.8,790.7 1303.8,790.8 1304.8,791.6 1305.8,793.1 1306.8,795.2 1307.8,797.9 1308.8,801.3 1309.8,805.2 1310.8,809.8 1311.8,815.0 1312.8,820.7 1313.8,826.9 1314.8,833.6 1315.8,840.8 1316.8,848.4 1317.8,856.4 1318.8,864.8 1319.8,873.5 1320.8,882.6 1321.8,891.9 1322.8,901.4 1323.8,911.2 1324.8,921.1 1325.8,931.2 1326.8,941.3 1327.8,951.6 1328.8,962.0 1329.8,972.3 1330.8,982.7 1331.8,993.1 1332.8,1003.4 1333.8,1013.7 1334.8,1023.8 1335.8,1033.9 1336.8,1043.9 1337.8,1053.7 1338.8,1063.3 1339.8,1072.7 1340.8,1082.0 1341.8,1091.1 1342.8,1099.9 1343.8,1108.5 1344.8,1116.9 1345.8,1125.1 1346.8,1133.0 1347.8,1140.6 1348.8,1148.0 1349.8,1155.1 1350.8,1161.9 1351.8,1168.5 1352.8,1174.8 1353.8,1180.9 1354.8,1186.7 1355.8,1192.2 1356.8,1197.5 1357.8,1202.5 1358.8,1207.3 1359.8,1211.8 1360.8,1216.1 1361.8,1220.2 1362.8,1224.0 1363.8,1227.6 1364.8,1231.1 1365.8,1234.3 1366.8,1237.3 1367.8,1240.2 1368.8,1242.9 1369.8,1245.4 1370.8,1247.8 1371.8,1250.0 1372.8,1252.1 1373.8,1254.0 1374.8,1255.9 1375.8,1257.6 1376.8,1259.1 1377.8,1260.6 1378.8,1262.0 1379.8,1263.3 1380.8,1264.5 1381.8,1265.6 1382.8,1266.7 1383.8,1267.7 1384.8,1268.6 1385.8,1269.4 1386.8,1270.2 1387.8,1271.0 1388.8,1271.6 1389.8,1272.3 1390.8,1272.9 1391.8,1273.5 1392.8,1274.0 1393.8,1274.5 1394.8,1274.9 1395.8,1275.4 1396.8,1275.8 1397.8,1276.1 1398.8,1276.5 1399.8,1276.8 1400.8,1277.2 1401.8,1277.5 1402.8,1277.7 1403.8,1278.0 1404.8,1278.3 1405.8,1278.5 1406.8,1278.8 1407.8,1279.0 1408.8,1279.2 1409.8,1279.4 1410.8,1279.6 1411.8,1279.8 1412.8,1280.0 1413.8,1280.1 1414.8,1280.3 1415.8,1280.5 1416.8,1280.6 1417.8,1280.8 1418.8,1280.9 1419.8,1281.0 1420.8,1281.2 1421.8,1281.3 1422.8,1281.4 1423.8,1281.6 1424.8,1281.7 1425.8,1281.8 1426.8,1281.9 1427.8,1282.0 1428.8,1282.2 1429.8,1282.3 1430.8,1282.4 1431.8,1282.5 1432.8,1282.6 1433.8,1282.7 1434.8,1282.8 1435.8,1282.9 1436.8,1283.0 1437.8,1283.0 1438.8,1283.1 1439.8,1283.2 1440.8,1283.3 1441.8,1283.4 1442.8,1283.5 1443.8,1283.6 1444.8,1283.6 1445.8,1283.7 1446.8,1283.8 1447.8,1283.9 1448.8,1283.9 1449.8,1284.0 1450.8,1284.1 1451.8,1284.2 1452.8,1284.2 1453.8,1284.3 1454.8,1284.4 1455.8,1284.4 1456.8,1284.5 1457.8,1284.6 1458.8,1284.6 1459.8,1284.7 1460.8,1284.8 1461.8,1284.8 1462.8,1284.9 1463.8,1285.0 1464.8,1285.0 1465.8,1285.1 1466.8,1285.1 1467.8,1285.2 1468.8,1285.3 1469.8,1285.3 1470.8,1285.4 1471.8,1285.5 1472.8,1285.5 1473.8,1285.6 1474.8,1285.6 1475.8,1285.7 1476.8,1285.8 1477.8,1285.8 1478.8,1285.9 1479.8,1286.0 1480.8,1286.0 1481.8,1286.1 1482.8,1286.1 1483.8,1286.2 1484.8,1286.3 1485.8,1286.3 1486.8,1286.4 1487.8,1286.5 1488.8,1286.5 1489.8,1286.6 1490.8,1286.6 1491.8,1286.7 1492.8,1286.8 1493.8,1286.8 1494.8,1286.9 1495.8,1286.9 1496.8,1287.0 1497.8,1287.1 1498.8,1287.1 1499.8,1287.2 1500.8,1287.2 1501.8,1287.3 1502.8,1287.3 1503.8,1287.4 1504.8,1287.5 1505.8,1287.5 1506.8,1287.6 1507.8,1287.6 1508.8,1287.7 1509.8,1287.7 1510.8,1287.8 1511.8,1287.9 1512.8,1287.9 1513.8,1288.0 1514.8,1288.0 1515.8,1288.1 1516.8,1288.1 1517.8,1288.2 1518.8,1288.3 1519.8,1288.3 1520.8,1288.4 1521.8,1288.4 1522.8,1288.5 1523.8,1288.6 1524.8,1288.6 1525.8,1288.7 1526.8,1288.7 1527.8,1288.8 1528.8,1288.9 1529.8,1288.9 1530.8,1289.0 1531.8,1289.1 1532.8,1289.1 1533.8,1289.2 1534.8,1289.2 1535.8,1289.3 1536.8,1289.4 1537.8,1289.4 1538.8,1289.5 1539.8,1289.6 1540.8,1289.7 1541.8,1289.7 1542.8,1289.8 1543.8,1289.9 1544.8,1289.9 1545.8,1290.0 1546.8,1290.1 1547.8,1290.2 1548.8,1290.2 1549.8,1290.3 1550.8,1290.4 1551.8,1290.5 1552.8,1290.6 1553.8,1290.6 1554.8,1290.7" fill="none" stroke="#00ff00" stroke-width="10.5" stroke-linejoin="round" stroke-linecap="butt"/><polyline points="1122.8,1180.8 1123.8,1181.0 1124.8,1181.1 1125.8,1181.3 1126.8,1181.4 1127.8,1181.6 1128.8,1181.7 1129.8,1181.9 1130.8,1182.0 1131.8,1182.2 1132.8,1182.3 1133.8,1182.5 1134.8,1182.6 1135.8,1182.8 1136.8,1182.9 1137.8,1183.1 1138.8,1183.2 1139.8,1183.4 1140.8,1183.5 1141.8,1183.6 1142.8,1183.8 1143.8,1183.9 1144.8,1184.1 1145.8,1184.2 1146.8,1184.3 1147.8,1184.4 1148.8,1184.6 1149.8,1184.7 1150.8,1184.8 1151.8,1184.9 1152.8,1185.0 1153.8,1185.1 1154.8,1185.2 1155.8,1185.2 1156.8,1185.2 1157.8,1185.3 1158.8,1185.3 1159.8,1185.2 1160.8,1185.1 1161.8,1185.0 1162.8,1184.8 1163.8,1184.6 1164.8,1184.3 1165.8,1184.0 1166.8,1183.5 1167.8,1183.0 1168.8,1182.3 1169.8,1181.5 1170.8,1180.6 1171.8,1179.5 1172.8,1178.3 1173.8,1176.8 1174.8,1175.2 1175.8,1173.3 1176.8,1171.1 1177.8,1168.7 1178.8,1166.0 1179.8,1162.9 1180.8,1159.5 1181.8,1155.7 1182.8,1151.5 1183.8,1146.9 1184.8,1141.9 1185.8,1136.4 1186.8,1130.5 1187.8,1124.1 1188.8,1117.2 1189.8,1109.8 1190.8,1101.9 1191.8,1093.5 1192.8,1084.7 1193.8,1075.4 1194.8,1065.7 1195.8,1055.6 1196.8,1045.2 1197.8,1034.4 1198.8,1023.4 1199.8,1012.1 1200.8,1000.7 1201.8,989.2 1202.8,977.7 1203.8,966.3 1204.8,955.1 1205.8,944.1 1206.8,933.4 1207.8,923.2 1208.8,913.4 1209.8,904.3 1210.8,895.9 1211.8,888.3 1212.8,881.5 1213.8,875.7 1214.8,870.9 1215.8,867.1 1216.8,864.5 1217.8,863.0 1218.8,862.7 1219.8,863.6 1220.8,865.7 1221.8,868.9 1222.8,873.2 1223.8,878.7 1224.8,885.1 1225.8,892.5 1226.8,900.8 1227.8,910.0 1228.8,919.8 1229.8,930.2 1230.8,941.2 1231.8,952.7 1232.8,964.5 1233.8,976.5 1234.8,988.8 1235.8,1001.1 1236.8,1013.4 1237.8,1025.7 1238.8,1037.8 1239.8,1049.7 1240.8,1061.4 1241.8,1072.8 1242.8,1083.8 1243.8,1094.4 1244.8,1104.6 1245.8,1114.3 1246.8,1123.6 1247.8,1132.3 1248.8,1140.6 1249.8,1148.4 1250.8,1155.7 1251.8,1162.5 1252.8,1168.9 1253.8,1174.7 1254.8,1180.2 1255.8,1185.2 1256.8,1189.8 1257.8,1194.0 1258.8,1197.9 1259.8,1201.4 1260.8,1204.7 1261.8,1207.6 1262.8,1210.3 1263.8,1212.7 1264.8,1214.9 1265.8,1216.9 1266.8,1218.8 1267.8,1220.4 1268.8,1221.9 1269.8,1223.3 1270.8,1224.6 1271.8,1225.8 1272.8,1226.9 1273.8,1227.9 1274.8,1228.8 1275.8,1229.7 1276.8,1230.5 1277.8,1231.3 1278.8,1232.1 1279.8,1232.8 1280.8,1233.5 1281.8,1234.2 1282.8,1234.9 1283.8,1235.5 1284.8,1236.2 1285.8,1236.8 1286.8,1237.5 1287.8,1238.1 1288.8,1238.7 1289.8,1239.4 1290.8,1240.1 1291.8,1240.7 1292.8,1241.4 1293.8,1242.1 1294.8,1242.8 1295.8,1243.5 1296.8,1244.2 1297.8,1244.9 1298.8,1245.6 1299.8,1246.4 1300.8,1247.1 1301.8,1247.9 1302.8,1248.7 1303.8,1249.4 1304.8,1250.2 1305.8,1251.0 1306.8,1251.7 1307.8,1252.5 1308.8,1253.3 1309.8,1254.1 1310.8,1254.8 1311.8,1255.6 1312.8,1256.3 1313.8,1257.1 1314.8,1257.8" fill="none" stroke="#00ff00" stroke-width="10.5" stroke-linejoin="round" stroke-linecap="butt"/><polyline points="979.8,1156.0 980.8,1156.0 981.8,1156.1 982.8,1156.1 983.8,1156.1 984.8,1156.2 985.8,1156.2 986.8,1156.2 987.8,1156.2 988.8,1156.2 989.8,1156.2 990.8,1156.2 991.8,1156.2 992.8,1156.2 993.8,1156.2 994.8,1156.2 995.8,1156.1 996.8,1156.1 997.8,1156.0 998.8,1156.0 999.8,1155.9 1000.8,1155.8 1001.8,1155.7 1002.8,1155.6 1003.8,1155.5 1004.8,1155.4 1005.8,1155.2 1006.8,1155.1 1007.8,1154.9 1008.8,1154.7 1009.8,1154.6 1010.8,1154.4 1011.8,1154.1 1012.8,1153.9 1013.8,1153.7 1014.8,1153.4 1015.8,1153.2 1016.8,1152.9 1017.8,1152.6 1018.8,1152.3 1019.8,1151.9 1020.8,1151.6 1021.8,1151.2 1022.8,1150.9 1023.8,1150.5 1024.8,1150.1 1025.8,1149.6 1026.8,1149.2 1027.8,1148.7 1028.8,1148.3 1029.8,1147.8 1030.8,1147.3 1031.8,1146.8 1032.8,1146.2 1033.8,1145.7 1034.8,1145.1 1035.8,1144.5 1036.8,1143.9 1037.8,1143.3 1038.8,1142.7 1039.8,1142.0 1040.8,1141.3 1041.8,1140.7 1042.8,1140.0 1043.8,1139.3 1044.8,1138.5 1045.8,1137.8 1046.8,1137.0 1047.8,1136.3 1048.8,1135.5 1049.8,1134.7 1050.8,1133.9 1051.8,1133.0 1052.8,1132.2 1053.8,1131.4 1054.8,1130.5 1055.8,1129.6 1056.8,1128.7 1057.8,1127.8 1058.8,1126.9 1059.8,1126.0 1060.8,1125.1 1061.8,1124.2 1062.8,1123.3 1063.8,1122.3 1064.8,1121.4 1065.8,1120.4 1066.8,1119.5 1067.8,1118.5 1068.8,1117.5 1069.8,1116.6 1070.8,1115.6 1071.8,1114.6 1072.8,1113.7 1073.8,1112.7 1074.8,1111.8 1075.8,1110.8 1076.8,1109.8 1077.8,1108.9 1078.8,1107.9 1079.8,1107.0 1080.8,1106.1 1081.8,1105.1 1082.8,1104.2 1083.8,1103.3 1084.8,1102.4 1085.8,1101.5 1086.8,1100.7 1087.8,1099.8 1088.8,1099.0 1089.8,1098.1 1090.8,1097.3 1091.8,1096.5 1092.8,1095.8 1093.8,1095.0 1094.8,1094.3 1095.8,1093.6 1096.8,1092.9 1097.8,1092.2 1098.8,1091.6 1099.8,1091.0 1100.8,1090.4 1101.8,1089.8 1102.8,1089.3 1103.8,1088.8 1104.8,1088.3 1105.8,1087.8 1106.8,1087.4 1107.8,1087.0 1108.8,1086.7 1109.8,1086.4 1110.8,1086.1 1111.8,1085.8 1112.8,1085.6 1113.8,1085.4 1114.8,1085.2 1115.8,1085.1 1116.8,1085.0 1117.8,1085.0 1118.8,1084.9 1119.8,1085.0 1120.8,1085.0 1121.8,1085.1 1122.8,1085.2 1123.8,1085.4 1124.8,1085.6 1125.8,1085.8 1126.8,1086.1 1127.8,1086.4 1128.8,1086.7 1129.8,1087.1 1130.8,1087.5 1131.8,1088.0 1132.8,1088.4 1133.8,1089.0 1134.8,1089.5 1135.8,1090.1 1136.8,1090.7 1137.8,1091.4 1138.8,1092.0 1139.8,1092.8 1140.8,1093.5 1141.8,1094.3 1142.8,1095.1 1143.8,1095.9 1144.8,1096.8 1145.8,1097.7 1146.8,1098.6 1147.8,1099.6 1148.8,1100.6 1149.8,1101.6 1150.8,1102.6 1151.8,1103.7 1152.8,1104.8 1153.8,1105.9 1154.8,1107.0 1155.8,1108.2 1156.8,1109.4 1157.8,1110.6 1158.8,1111.8 1159.8,1113.0 1160.8,1114.3 1161.8,1115.5 1162.8,1116.8 1163.8,1118.1 1164.8,1119.4 1165.8,1120.8 1166.8,1122.1 1167.8,1123.5 1168.8,1124.8 1169.8,1126.2 1170.8,1127.6 1171.8,1129.0 1172.8,1130.4 1173.8,1131.8 1174.8,1133.2 1175.8,1134.6 1176.8,1136.0 1177.8,1137.5 1178.8,1138.9 1179.8,1140.3 1180.8,1141.8 1181.8,1143.2 1182.8,1144.6 1183.8,1146.1 1184.8,1147.5 1185.8,1148.9 1186.8,1150.4 1187.8,1151.8 1188.8,1153.2 1189.8,1154.6 1190.8,1156.0 1191.8,1157.4 1192.8,1158.8 1193.8,1160.2 1194.8,1161.6 1195.8,1162.9 1196.8,1164.3 1197.8,1165.6 1198.8,1167.0 1199.8,1168.3 1200.8,1169.6 1201.8,1170.9 1202.8,1172.2 1203.8,1173.5 1204.8,1174.8 1205.8,1176.1 1206.8,1177.4 1207.8,1178.6 1208.8,1179.9 1209.8,1181.1 1210.8,1182.4 1211.8,1183.6 1212.8,1184.8 1213.8,1186.0 1214.8,1187.2 1215.8,1188.4 1216.8,1189.6 1217.8,1190.7 1218.8,1191.9 1219.8,1193.0 1220.8,1194.1 1221.8,1195.3 1222.8,1196.3 1223.8,1197.4 1224.8,1198.5 1225.8,1199.5 1226.8,1200.6 1227.8,1201.6 1228.8,1202.6 1229.8,1203.6 1230.8,1204.5 1231.8,1205.5 1232.8,1206.4 1233.8,1207.3 1234.8,1208.1 1235.8,1209.0 1236.8,1209.8 1237.8,1210.6 1238.8,1211.4 1239.8,1212.2 1240.8,1213.0 1241.8,1213.7 1242.8,1214.4 1243.8,1215.1 1244.8,1215.8 1245.8,1216.4 1246.8,1217.1 1247.8,1217.7 1248.8,1218.3 1249.8,1218.9 1250.8,1219.5 1251.8,1220.1 1252.8,1220.7 1253.8,1221.3 1254.8,1221.8 1255.8,1222.4 1256.8,1222.9 1257.8,1223.5 1258.8,1224.0 1259.8,1224.6 1260.8,1225.1 1261.8,1225.7 1262.8,1226.2 1263.8,1226.7 1264.8,1227.3 1265.8,1227.8 1266.8,1228.3 1267.8,1228.9" fill="none" stroke="#0000ff" stroke-width="10.5" stroke-linejoin="round" stroke-linecap="butt"/><polyline points="673.8,1126.6 674.8,1127.0 675.8,1127.3 676.8,1127.7 677.8,1128.0 678.8,1128.4 679.8,1128.7 680.8,1129.0 681.8,1129.4 682.8,1129.7 683.8,1130.0 684.8,1130.3 685.8,1130.5 686.8,1130.8 687.8,1131.1 688.8,1131.3 689.8,1131.6 690.8,1131.8 691.8,1132.1 692.8,1132.3 693.8,1132.5 694.8,1132.7 695.8,1132.9 696.8,1133.1 697.8,1133.3 698.8,1133.4 699.8,1133.6 700.8,1133.7 701.8,1133.9 702.8,1134.0 703.8,1134.1 704.8,1134.3 705.8,1134.4 706.8,1134.5 707.8,1134.6 708.8,1134.7 709.8,1134.8 710.8,1134.9 711.8,1135.0 712.8,1135.1 713.8,1135.2 714.8,1135.2 715.8,1135.3 716.8,1135.4 717.8,1135.5 718.8,1135.6 719.8,1135.6 720.8,1135.7 721.8,1135.8 722.8,1135.8 723.8,1135.9 724.8,1136.0 725.8,1136.0 726.8,1136.1 727.8,1136.1 728.8,1136.2 729.8,1136.3 730.8,1136.3 731.8,1136.4 732.8,1136.4 733.8,1136.5 734.8,1136.5 735.8,1136.6 736.8,1136.6 737.8,1136.7 738.8,1136.7 739.8,1136.8 740.8,1136.8 741.8,1136.9 742.8,1136.9 743.8,1136.9 744.8,1137.0 745.8,1137.0 746.8,1137.1 747.8,1137.1 748.8,1137.1 749.8,1137.2 750.8,1137.2 751.8,1137.3 752.8,1137.3 753.8,1137.3 754.8,1137.4 755.8,1137.4 756.8,1137.4 757.8,1137.5 758.8,1137.5 759.8,1137.6 760.8,1137.6 761.8,1137.6 762.8,1137.7 763.8,1137.7 764.8,1137.7 765.8,1137.8 766.8,1137.8 767.8,1137.8 768.8,1137.9 769.8,1137.9 770.8,1138.0 771.8,1138.0 772.8,1138.0 773.8,1138.1 774.8,1138.1 775.8,1138.1 776.8,1138.2 777.8,1138.2 778.8,1138.3 779.8,1138.3 780.8,1138.3 781.8,1138.4 782.8,1138.4 783.8,1138.4 784.8,1138.5 785.8,1138.5 786.8,1138.5 787.8,1138.6 788.8,1138.6 789.8,1138.6 790.8,1138.7 791.8,1138.7 792.8,1138.7 793.8,1138.8 794.8,1138.8 795.8,1138.8 796.8,1138.9 797.8,1138.9 798.8,1138.9 799.8,1138.9 800.8,1139.0 801.8,1139.0 802.8,1139.0 803.8,1139.0 804.8,1139.0 805.8,1139.1 806.8,1139.1 807.8,1139.1 808.8,1139.1 809.8,1139.1 810.8,1139.1 811.8,1139.1 812.8,1139.2 813.8,1139.2 814.8,1139.2 815.8,1139.2 816.8,1139.2 817.8,1139.2 818.8,1139.2 819.8,1139.2 820.8,1139.1 821.8,1139.1 822.8,1139.1 823.8,1139.1 824.8,1139.1 825.8,1139.1 826.8,1139.0 827.8,1139.0 828.8,1139.0 829.8,1138.9 830.8,1138.9 831.8,1138.9 832.8,1138.8 833.8,1138.8 834.8,1138.7 835.8,1138.7 836.8,1138.6 837.8,1138.5 838.8,1138.4 839.8,1138.4 840.8,1138.3 841.8,1138.2 842.8,1138.1 843.8,1138.0 844.8,1137.9 845.8,1137.8 846.8,1137.7 847.8,1137.5 848.8,1137.4 849.8,1137.3 850.8,1137.1 851.8,1137.0 852.8,1136.8 853.8,1136.6 854.8,1136.5 855.8,1136.3 856.8,1136.1 857.8,1135.9 858.8,1135.7 859.8,1135.4 860.8,1135.2 861.8,1135.0 862.8,1134.7 863.8,1134.5 864.8,1134.2 865.8,1133.9 866.8,1133.6 867.8,1133.3 868.8,1133.0 869.8,1132.7 870.8,1132.3 871.8,1132.0 872.8,1131.6 873.8,1131.2 874.8,1130.9 875.8,1130.5 876.8,1130.0 877.8,1129.6 878.8,1129.2 879.8,1128.7 880.8,1128.3 881.8,1127.8 882.8,1127.3 883.8,1126.8 884.8,1126.3 885.8,1125.7 886.8,1125.2 887.8,1124.6 888.8,1124.0 889.8,1123.4 890.8,1122.8 891.8,1122.2 892.8,1121.6 893.8,1120.9 894.8,1120.3 895.8,1119.6 896.8,1118.9 897.8,1118.2 898.8,1117.4 899.8,1116.7 900.8,1115.9 901.8,1115.2 902.8,1114.4 903.8,1113.6 904.8,1112.8 905.8,1111.9 906.8,1111.1 907.8,1110.2 908.8,1109.4 909.8,1108.5 910.8,1107.6 911.8,1106.7 912.8,1105.8 913.8,1104.8 914.8,1103.9 915.8,1102.9 916.8,1101.9 917.8,1101.0 918.8,1100.0 919.8,1099.0 920.8,1098.0 921.8,1097.0 922.8,1095.9 923.8,1094.9 924.8,1093.9 925.8,1092.8 926.8,1091.8 927.8,1090.7 928.8,1089.6 929.8,1088.6 930.8,1087.5 931.8,1086.4 932.8,1085.4 933.8,1084.3 934.8,1083.2 935.8,1082.1 936.8,1081.1 937.8,1080.0 938.8,1078.9 939.8,1077.9 940.8,1076.8 941.8,1075.8 942.8,1074.7 943.8,1073.7 944.8,1072.7 945.8,1071.7 946.8,1070.7 947.8,1069.7 948.8,1068.7 949.8,1067.7 950.8,1066.8 951.8,1065.8 952.8,1064.9 953.8,1064.0 954.8,1063.2 955.8,1062.3 956.8,1061.5 957.8,1060.7 958.8,1059.9 959.8,1059.1 960.8,1058.4 961.8,1057.7 962.8,1057.0 963.8,1056.4 964.8,1055.8 965.8,1055.2 966.8,1054.7 967.8,1054.2 968.8,1053.7 969.8,1053.3 970.8,1052.9 971.8,1052.6 972.8,1052.2 973.8,1052.0 974.8,1051.8 975.8,1051.6 976.8,1051.5 977.8,1051.4 978.8,1051.3 979.8,1051.3 980.8,1051.4 981.8,1051.5 982.8,1051.6 983.8,1051.8 984.8,1052.1 985.8,1052.3 986.8,1052.7 987.8,1053.0 988.8,1053.5 989.8,1053.9 990.8,1054.4 991.8,1055.0 992.8,1055.6 993.8,1056.2 994.8,1056.9 995.8,1057.6 996.8,1058.3 997.8,1059.1 998.8,1060.0 999.8,1060.8 1000.8,1061.7 1001.8,1062.7 1002.8,1063.6 1003.8,1064.6 1004.8,1065.6 1005.8,1066.7 1006.8,1067.8 1007.8,1068.9 1008.8,1070.0 1009.8,1071.1 1010.8,1072.3 1011.8,1073.5 1012.8,1074.7 1013.8,1075.9 1014.8,1077.1 1015.8,1078.4 1016.8,1079.7 1017.8,1080.9 1018.8,1082.2 1019.8,1083.5 1020.8,1084.8 1021.8,1086.2 1022.8,1087.5 1023.8,1088.8 1024.8,1090.2 1025.8,1091.5 1026.8,1092.8 1027.8,1094.2 1028.8,1095.5 1029.8,1096.9 1030.8,1098.2 1031.8,1099.6 1032.8,1100.9 1033.8,1102.2 1034.8,1103.6 1035.8,1104.9 1036.8,1106.2 1037.8,1107.6 1038.8,1108.9 1039.8,1110.2 1040.8,1111.5 1041.8,1112.8 1042.8,1114.1 1043.8,1115.3 1044.8,1116.6 1045.8,1117.8 1046.8,1119.1 1047.8,1120.3 1048.8,1121.5 1049.8,1122.8 1050.8,1123.9 1051.8,1125.1 1052.8,1126.3 1053.8,1127.5 1054.8,1128.6 1055.8,1129.7 1056.8,1130.9 1057.8,1132.0 1058.8,1133.1 1059.8,1134.1 1060.8,1135.2 1061.8,1136.2 1062.8,1137.3 1063.8,1138.3 1064.8,1139.3 1065.8,1140.3 1066.8,1141.2 1067.8,1142.2 1068.8,1143.1 1069.8,1144.1 1070.8,1145.0 1071.8,1145.9 1072.8,1146.7 1073.8,1147.6 1074.8,1148.5 1075.8,1149.3 1076.8,1150.1 1077.8,1150.9 1078.8,1151.7 1079.8,1152.5 1080.8,1153.3 1081.8,1154.0 1082.8,1154.7 1083.8,1155.5 1084.8,1156.2 1085.8,1156.8 1086.8,1157.5 1087.8,1158.2 1088.8,1158.8 1089.8,1159.5 1090.8,1160.1 1091.8,1160.7 1092.8,1161.3 1093.8,1161.9 1094.8,1162.5 1095.8,1163.1 1096.8,1163.6 1097.8,1164.2 1098.8,1164.7 1099.8,1165.2 1100.8,1165.7 1101.8,1166.2 1102.8,1166.7 1103.8,1167.2 1104.8,1167.7 1105.8,1168.2 1106.8,1168.6 1107.8,1169.1 1108.8,1169.5 1109.8,1169.9 1110.8,1170.4 1111.8,1170.8 1112.8,1171.2 1113.8,1171.6 1114.8,1172.0 1115.8,1172.4 1116.8,1172.8 1117.8,1173.2 1118.8,1173.5 1119.8,1173.9 1120.8,1174.2 1121.8,1174.6 1122.8,1174.9 1123.8,1175.3 1124.8,1175.6 1125.8,1176.0 1126.8,1176.3 1127.8,1176.6 1128.8,1176.9 1129.8,1177.2 1130.8,1177.5 1131.8,1177.8 1132.8,1178.1 1133.8,1178.4 1134.8,1178.7 1135.8,1179.0 1136.8,1179.3 1137.8,1179.6 1138.8,1179.9 1139.8,1180.1 1140.8,1180.4 1141.8,1180.7 1142.8,1181.0 1143.8,1181.2 1144.8,1181.5 1145.8,1181.8 1146.8,1182.1 1147.8,1182.3 1148.8,1182.6 1149.8,1182.9 1150.8,1183.1 1151.8,1183.4 1152.8,1183.7 1153.8,1183.9 1154.8,1184.2 1155.8,1184.5 1156.8,1184.8 1157.8,1185.0 1158.8,1185.3 1159.8,1185.6 1160.8,1185.9 1161.8,1186.1 1162.8,1186.4 1163.8,1186.7 1164.8,1187.0 1165.8,1187.3 1166.8,1187.6 1167.8,1187.9 1168.8,1188.2 1169.8,1188.5 1170.8,1188.8 1171.8,1189.1 1172.8,1189.4 1173.8,1189.7 1174.8,1190.0 1175.8,1190.4 1176.8,1190.7 1177.8,1191.0 1178.8,1191.4 1179.8,1191.7 1180.8,1192.0 1181.8,1192.4 1182.8,1192.7 1183.8,1193.1 1184.8,1193.5 1185.8,1193.8 1186.8,1194.2 1187.8,1194.6 1188.8,1194.9 1189.8,1195.3 1190.8,1195.7 1191.8,1196.1 1192.8,1196.4 1193.8,1196.8 1194.8,1197.2 1195.8,1197.6 1196.8,1198.0 1197.8,1198.4 1198.8,1198.8 1199.8,1199.2 1200.8,1199.6 1201.8,1200.0 1202.8,1200.5 1203.8,1200.9 1204.8,1201.3 1205.8,1201.8 1206.8,1202.2 1207.8,1202.7 1208.8,1203.1 1209.8,1203.6 1210.8,1204.1 1211.8,1204.6 1212.8,1205.1 1213.8,1205.5 1214.8,1206.0 1215.8,1206.6 1216.8,1207.1 1217.8,1207.6 1218.8,1208.1 1219.8,1208.6 1220.8,1209.1 1221.8,1209.7 1222.8,1210.2 1223.8,1210.7 1224.8,1211.2 1225.8,1211.8 1226.8,1212.3 1227.8,1212.8 1228.8,1213.3 1229.8,1213.8 1230.8,1214.3 1231.8,1214.8 1232.8,1215.3 1233.8,1215.8 1234.8,1216.3 1235.8,1216.7 1236.8,1217.2 1237.8,1217.7 1238.8,1218.1 1239.8,1218.5 1240.8,1219.0 1241.8,1219.4 1242.8,1219.8 1243.8,1220.2 1244.8,1220.6 1245.8,1221.0 1246.8,1221.4 1247.8,1221.7 1248.8,1222.1 1249.8,1222.5 1250.8,1222.9 1251.8,1223.2 1252.8,1223.6 1253.8,1224.0 1254.8,1224.3 1255.8,1224.7 1256.8,1225.1 1257.8,1225.5 1258.8,1225.9 1259.8,1226.3 1260.8,1226.7 1261.8,1227.1 1262.8,1227.5 1263.8,1227.9 1264.8,1228.3 1265.8,1228.7 1266.8,1229.1 1267.8,1229.6 1268.8,1230.0 1269.8,1230.4 1270.8,1230.9 1271.8,1231.3 1272.8,1231.8 1273.8,1232.2 1274.8,1232.7 1275.8,1233.2 1276.8,1233.6 1277.8,1234.1 1278.8,1234.6 1279.8,1235.1 1280.8,1235.6 1281.8,1236.1 1282.8,1236.6 1283.8,1237.1 1284.8,1237.6 1285.8,1238.2 1286.8,1238.7 1287.8,1239.3 1288.8,1239.8 1289.8,1240.4 1290.8,1241.0 1291.8,1241.6" fill="none" stroke="#00ff00" stroke-width="10.5" stroke-linejoin="round" stroke-linecap="butt"/><polyline points="514.8,1095.8 515.8,1095.8 516.8,1095.8 517.8,1095.7 518.8,1095.7 519.8,1095.6 520.8,1095.6 521.8,1095.6 522.8,1095.5 523.8,1095.5 524.8,1095.4 525.8,1095.4 526.8,1095.3 527.8,1095.3 528.8,1095.2 529.8,1095.2 530.8,1095.1 531.8,1095.1 532.8,1095.0 533.8,1095.0 534.8,1094.9 535.8,1094.8 536.8,1094.8 537.8,1094.7 538.8,1094.6 539.8,1094.6 540.8,1094.5 541.8,1094.4 542.8,1094.3 543.8,1094.2 544.8,1094.1 545.8,1094.0 546.8,1093.9 547.8,1093.7 548.8,1093.6 549.8,1093.4 550.8,1093.3 551.8,1093.1 552.8,1092.9 553.8,1092.7 554.8,1092.5 555.8,1092.2 556.8,1092.0 557.8,1091.7 558.8,1091.4 559.8,1091.1 560.8,1090.7 561.8,1090.3 562.8,1089.9 563.8,1089.5 564.8,1089.0 565.8,1088.5 566.8,1087.9 567.8,1087.3 568.8,1086.6 569.8,1085.9 570.8,1085.2 571.8,1084.4 572.8,1083.5 573.8,1082.6 574.8,1081.6 575.8,1080.5 576.8,1079.4 577.8,1078.2 578.8,1076.9 579.8,1075.5 580.8,1074.0 581.8,1072.5 582.8,1070.8 583.8,1069.1 584.8,1067.2 585.8,1065.3 586.8,1063.2 587.8,1061.0 588.8,1058.7 589.8,1056.3 590.8,1053.8 591.8,1051.1 592.8,1048.3 593.8,1045.4 594.8,1042.3 595.8,1039.2 596.8,1035.8 597.8,1032.4 598.8,1028.8 599.8,1025.1 600.8,1021.3 601.8,1017.3 602.8,1013.2 603.8,1008.9 604.8,1004.6 605.8,1000.1 606.8,995.5 607.8,990.8 608.8,986.0 609.8,981.1 610.8,976.2 611.8,971.1 612.8,965.9 613.8,960.7 614.8,955.4 615.8,950.0 616.8,944.6 617.8,939.1 618.8,933.6 619.8,928.1 620.8,922.5 621.8,917.0 622.8,911.4 623.8,905.9 624.8,900.4 625.8,895.0 626.8,889.6 627.8,884.3 628.8,879.1 629.8,874.0 630.8,869.0 631.8,864.1 632.8,859.4 633.8,854.8 634.8,850.5 635.8,846.3 636.8,842.3 637.8,838.5 638.8,835.0 639.8,831.7 640.8,828.7 641.8,825.9 642.8,823.4 643.8,821.2 644.8,819.3 645.8,817.7 646.8,816.4 647.8,815.4 648.8,814.7 649.8,814.3 650.8,814.3 651.8,814.6 652.8,815.2 653.8,816.1 654.8,817.3 655.8,818.9 656.8,820.8 657.8,822.9 658.8,825.4 659.8,828.2 660.8,831.3 661.8,834.6 662.8,838.3 663.8,842.1 664.8,846.3 665.8,850.6 666.8,855.2 667.8,860.0 668.8,865.0 669.8,870.2 670.8,875.6 671.8,881.1 672.8,886.7 673.8,892.5 674.8,898.3 675.8,904.3 676.8,910.3 677.8,916.4 678.8,922.6 679.8,928.8 680.8,935.0 681.8,941.2 682.8,947.5 683.8,953.7 684.8,959.8 685.8,966.0 686.8,972.1 687.8,978.1 688.8,984.1 689.8,990.0 690.8,995.8 691.8,1001.5 692.8,1007.1 693.8,1012.6 694.8,1018.0 695.8,1023.2 696.8,1028.3 697.8,1033.3 698.8,1038.2 699.8,1042.9 700.8,1047.5 701.8,1051.9 702.8,1056.2 703.8,1060.4 704.8,1064.4 705.8,1068.2 706.8,1072.0 707.8,1075.5 708.8,1079.0 709.8,1082.2 710.8,1085.4 711.8,1088.4 712.8,1091.3 713.8,1094.0 714.8,1096.7 715.8,1099.2 716.8,1101.5 717.8,1103.8 718.8,1105.9 719.8,1108.0 720.8,1109.9 721.8,1111.7 722.8,1113.5 723.8,1115.1 724.8,1116.6 725.8,1118.1 726.8,1119.4 727.8,1120.7 728.8,1121.9 729.8,1123.1 730.8,1124.1 731.8,1125.1 732.8,1126.1 733.8,1126.9 734.8,1127.8 735.8,1128.5 736.8,1129.2 737.8,1129.9 738.8,1130.5 739.8,1131.1 740.8,1131.7 741.8,1132.2 742.8,1132.7 743.8,1133.1 744.8,1133.5 745.8,1133.9 746.8,1134.3 747.8,1134.6 748.8,1134.9 749.8,1135.2 750.8,1135.5 751.8,1135.7 752.8,1136.0 753.8,1136.2 754.8,1136.4 755.8,1136.6 756.8,1136.8 757.8,1137.0 758.8,1137.2 759.8,1137.3 760.8,1137.5 761.8,1137.6 762.8,1137.8 763.8,1137.9 764.8,1138.0 765.8,1138.1 766.8,1138.3 767.8,1138.4 768.8,1138.5 769.8,1138.6 770.8,1138.7 771.8,1138.8 772.8,1138.9 773.8,1139.0 774.8,1139.1 775.8,1139.2 776.8,1139.3 777.8,1139.4 778.8,1139.5 779.8,1139.6 780.8,1139.7 781.8,1139.8 782.8,1139.8 783.8,1139.9 784.8,1140.0 785.8,1140.1 786.8,1140.2 787.8,1140.3 788.8,1140.4" fill="none" stroke="#00ff00" stroke-width="10.5" stroke-linejoin="round" stroke-linecap="butt"/><polyline points="163.8,1077.7 165.8,1077.8 167.8,1077.9 169.8,1078.1 171.8,1078.2 173.8,1078.4 175.8,1078.6 177.8,1078.8 179.8,1079.0 181.8,1079.2 183.8,1079.4 185.8,1079.6 187.8,1079.8 189.8,1080.0 191.8,1080.2 193.8,1080.5 195.8,1080.7 197.8,1080.9 199.8,1081.2 201.8,1081.4 203.8,1081.7 205.8,1081.9 207.8,1082.2 209.8,1082.5 211.8,1082.8 213.8,1083.1 215.8,1083.4 217.8,1083.8 219.8,1084.1 221.8,1084.5 223.8,1085.0 225.8,1085.4 227.8,1085.8 229.8,1086.3 231.8,1086.8 233.8,1087.3 235.8,1087.8 237.8,1088.3 239.8,1088.8 241.8,1089.2 243.8,1089.7 245.8,1090.2 247.8,1090.7 249.8,1091.2 251.8,1091.6 253.8,1092.1 255.8,1092.5 257.8,1092.9 259.8,1093.2 261.8,1093.6 263.8,1093.9 265.8,1094.2 267.8,1094.5 269.8,1094.7 271.8,1095.0 273.8,1095.2 275.8,1095.4 277.8,1095.6 279.8,1095.8 281.8,1096.1 283.8,1096.3 285.8,1096.4 287.8,1096.6 289.8,1096.8 291.8,1097.0 293.8,1097.2 295.8,1097.3 297.8,1097.5 299.8,1097.6 301.8,1097.8 303.8,1097.9 305.8,1098.0 307.8,1098.2 309.8,1098.3 311.8,1098.4 313.8,1098.5 315.8,1098.6 317.8,1098.7 319.8,1098.7 321.8,1098.8 323.8,1098.9 325.8,1098.9 327.8,1099.0 329.8,1099.0 331.8,1099.1 333.8,1099.2 335.8,1099.2 337.8,1099.3 339.8,1099.3 341.8,1099.4 343.8,1099.4 345.8,1099.5 347.8,1099.5 349.8,1099.6 351.8,1099.6 353.8,1099.6 355.8,1099.7 357.8,1099.7 359.8,1099.8 361.8,1099.8 363.8,1099.8 365.8,1099.9 367.8,1099.9 369.8,1099.9 371.8,1100.0 373.8,1100.0 375.8,1100.0 377.8,1100.0 379.8,1100.1 381.8,1100.1 383.8,1100.1 385.8,1100.1 387.8,1100.1 389.8,1100.2 391.8,1100.2 393.8,1100.2 395.8,1100.2 397.8,1100.2 399.8,1100.2 401.8,1100.2 403.8,1100.2 405.8,1100.2 407.8,1100.1 409.8,1100.1 411.8,1100.1 413.8,1100.1 415.8,1100.0 417.8,1100.0 419.8,1099.9 421.8,1099.9 423.8,1099.8 425.8,1099.8 427.8,1099.7 429.8,1099.7 431.8,1099.6 433.8,1099.5 435.8,1099.4 437.8,1099.4 439.8,1099.3 441.8,1099.2 443.8,1099.1 445.8,1099.1 447.8,1099.0 449.8,1098.9 451.8,1098.8 453.8,1098.7 455.8,1098.7 457.8,1098.6 459.8,1098.5 461.8,1098.4 463.8,1098.4 465.8,1098.3 467.8,1098.2 469.8,1098.2 471.8,1098.1 473.8,1098.0 475.8,1098.0 477.8,1097.9 479.8,1097.9 481.8,1097.8 483.8,1097.8 485.8,1097.7 487.8,1097.7 489.8,1097.6 491.8,1097.6 493.8,1097.5 495.8,1097.5 497.8,1097.4 499.8,1097.4 501.8,1097.3 503.8,1097.3 505.8,1097.2 507.8,1097.2 509.8,1097.1 511.8,1097.1 513.8,1097.1 515.8,1097.0 517.8,1097.0 519.8,1096.9 521.8,1096.9 523.8,1096.9 525.8,1096.8 527.8,1096.8 529.8,1096.8 531.8,1096.7 533.8,1096.7 535.8,1096.7 537.8,1096.7 539.8,1096.7 541.8,1096.6 543.8,1096.6 545.8,1096.6 547.8,1096.6 549.8,1096.6 551.8,1096.6 553.8,1096.6 555.8,1096.7 557.8,1096.7 559.8,1096.7 561.8,1096.8 563.8,1096.8 565.8,1096.9 567.8,1096.9 569.8,1097.0 571.8,1097.1 573.8,1097.2 575.8,1097.2 577.8,1097.3 579.8,1097.4 581.8,1097.5 583.8,1097.7 585.8,1097.8 587.8,1097.9 589.8,1098.0 591.8,1098.2 593.8,1098.3 595.8,1098.5 597.8,1098.6 599.8,1098.8 601.8,1099.1 603.8,1099.3 605.8,1099.6 607.8,1100.0 609.8,1100.4 611.8,1100.9 613.8,1101.5 615.8,1102.1 617.8,1102.7 619.8,1103.4 621.8,1104.1 623.8,1104.9 625.8,1105.6 627.8,1106.4 629.8,1107.2 631.8,1108.1 633.8,1109.0 635.8,1109.9 637.8,1110.9 639.8,1111.9 641.8,1112.9 643.8,1113.9 645.8,1115.0 647.8,1116.0 649.8,1117.0 651.8,1118.1 653.8,1119.0 655.8,1120.0 657.8,1120.9 659.8,1121.9 661.8,1122.8 663.8,1123.7 665.8,1124.5 667.8,1125.4 669.8,1126.2 671.8,1127.0 673.8,1127.8 675.8,1128.6 677.8,1129.3 679.8,1130.0 681.8,1130.6 683.8,1131.2 685.8,1131.8 687.8,1132.4 689.8,1132.9 691.8,1133.4 693.8,1133.9 695.8,1134.3 697.8,1134.7 699.8,1135.0 701.8,1135.3 703.8,1135.6 705.8,1135.9 707.8,1136.1 709.8,1136.3 711.8,1136.5 713.8,1136.7 715.8,1136.9 717.8,1137.1 719.8,1137.3 721.8,1137.4 723.8,1137.6 725.8,1137.7 727.8,1137.9 729.8,1138.0 731.8,1138.2 733.8,1138.3 735.8,1138.4 737.8,1138.5 739.8,1138.7 741.8,1138.8 743.8,1138.9 745.8,1139.0 747.8,1139.1 749.8,1139.2 751.8,1139.4 753.8,1139.5 755.8,1139.6 757.8,1139.7 759.8,1139.8 761.8,1139.9 763.8,1140.0 765.8,1140.1 767.8,1140.2 769.8,1140.4 771.8,1140.5 773.8,1140.6 775.8,1140.7 777.8,1140.9 779.8,1141.0 781.8,1141.1 783.8,1141.2 785.8,1141.4 787.8,1141.5 789.8,1141.6 791.8,1141.8 793.8,1141.9 795.8,1142.0 797.8,1142.2 799.8,1142.3 801.8,1142.4 803.8,1142.6 805.8,1142.7 807.8,1142.8 809.8,1143.0 811.8,1143.1 813.8,1143.2 815.8,1143.4 817.8,1143.5 819.8,1143.6 821.8,1143.8 823.8,1143.9 825.8,1144.0 827.8,1144.2 829.8,1144.3 831.8,1144.4 833.8,1144.6 835.8,1144.7 837.8,1144.8 839.8,1145.0 841.8,1145.1 843.8,1145.2 845.8,1145.4 847.8,1145.5 849.8,1145.6 851.8,1145.8 853.8,1145.9 855.8,1146.0 857.8,1146.1 859.8,1146.3 861.8,1146.4 863.8,1146.5 865.8,1146.6 867.8,1146.7 869.8,1146.9 871.8,1147.0 873.8,1147.1 875.8,1147.2 877.8,1147.3 879.8,1147.5 881.8,1147.6 883.8,1147.7 885.8,1147.8 887.8,1147.9 889.8,1148.1 891.8,1148.2 893.8,1148.3 895.8,1148.5 897.8,1148.6 899.8,1148.7 901.8,1148.9 903.8,1149.0 905.8,1149.2 907.8,1149.3 909.8,1149.5 911.8,1149.6 913.8,1149.8 915.8,1149.9 917.8,1150.1 919.8,1150.3 921.8,1150.5 923.8,1150.6 925.8,1150.8 927.8,1151.0 929.8,1151.2 931.8,1151.5 933.8,1151.7 935.8,1151.9 937.8,1152.1 939.8,1152.4 941.8,1152.6 943.8,1152.9 945.8,1153.1 947.8,1153.4 949.8,1153.7 951.8,1153.9 953.8,1154.2 955.8,1154.5 957.8,1154.8 959.8,1155.0 961.8,1155.3 963.8,1155.6 965.8,1155.9 967.8,1156.2 969.8,1156.5 971.8,1156.8 973.8,1157.1 975.8,1157.4 977.8,1157.7 979.8,1158.0 981.8,1158.4 983.8,1158.7 985.8,1159.0 987.8,1159.4 989.8,1159.7 991.8,1160.1 993.8,1160.4 995.8,1160.8 997.8,1161.1 999.8,1161.5 1001.8,1161.8 1003.8,1162.2 1005.8,1162.6 1007.8,1162.9 1009.8,1163.3 1011.8,1163.6 1013.8,1164.0 1015.8,1164.3 1017.8,1164.6 1019.8,1165.0 1021.8,1165.3 1023.8,1165.6 1025.8,1165.9 1027.8,1166.3 1029.8,1166.6 1031.8,1166.9 1033.8,1167.2 1035.8,1167.5 1037.8,1167.9 1039.8,1168.2 1041.8,1168.5 1043.8,1168.8 1045.8,1169.1 1047.8,1169.4 1049.8,1169.7 1051.8,1170.0 1053.8,1170.4 1055.8,1170.7 1057.8,1171.0 1059.8,1171.3 1061.8,1171.6 1063.8,1171.9 1065.8,1172.3 1067.8,1172.6 1069.8,1172.9 1071.8,1173.2 1073.8,1173.6 1075.8,1173.9 1077.8,1174.2 1079.8,1174.6 1081.8,1174.9 1083.8,1175.2 1085.8,1175.6 1087.8,1175.9 1089.8,1176.2 1091.8,1176.6 1093.8,1176.9 1095.8,1177.2 1097.8,1177.6 1099.8,1177.9 1101.8,1178.3 1103.8,1178.6 1105.8,1179.0 1107.8,1179.3 1109.8,1179.7 1111.8,1180.0 1113.8,1180.4 1115.8,1180.8 1117.8,1181.1 1119.8,1181.5 1121.8,1181.8 1123.8,1182.2 1125.8,1182.6 1127.8,1182.9 1129.8,1183.3 1131.8,1183.6 1133.8,1184.0 1135.8,1184.4 1137.8,1184.7 1139.8,1185.1 1141.8,1185.5 1143.8,1185.9 1145.8,1186.3 1147.8,1186.7 1149.8,1187.1 1151.8,1187.5 1153.8,1187.9 1155.8,1188.3 1157.8,1188.8 1159.8,1189.2 1161.8,1189.7 1163.8,1190.2 1165.8,1190.6 1167.8,1191.2 1169.8,1191.7 1171.8,1192.2 1173.8,1192.8 1175.8,1193.4 1177.8,1194.0 1179.8,1194.6 1181.8,1195.2 1183.8,1195.8 1185.8,1196.5 1187.8,1197.2 1189.8,1197.9 1191.8,1198.6 1193.8,1199.3 1195.8,1200.1 1197.8,1200.8 1199.8,1201.6 1201.8,1202.4 1203.8,1203.2 1205.8,1204.0 1207.8,1204.9 1209.8,1205.8 1211.8,1206.7 1213.8,1207.6 1215.8,1208.6 1217.8,1209.6 1219.8,1210.6 1221.8,1211.6 1223.8,1212.7 1225.8,1213.7 1227.8,1214.7 1229.8,1215.7 1231.8,1216.6 1233.8,1217.6 1235.8,1218.5 1237.8,1219.4 1239.8,1220.2 1241.8,1221.1 1243.8,1221.8 1245.8,1222.6 1247.8,1223.3 1249.8,1224.1 1251.8,1224.8 1253.8,1225.5 1255.8,1226.2 1257.8,1227.0 1259.8,1227.7 1261.8,1228.5 1263.8,1229.3 1265.8,1230.1 1267.8,1231.0 1269.8,1231.8 1271.8,1232.7 1273.8,1233.6 1275.8,1234.5 1277.8,1235.4 1279.8,1236.4 1281.8,1237.4 1283.8,1238.4 1285.8,1239.4 1287.8,1240.5 1289.8,1241.6 1291.8,1242.8 1293.8,1244.1 1295.8,1245.3 1297.8,1246.7 1299.8,1248.1 1301.8,1249.5 1303.8,1251.0 1305.8,1252.4 1307.8,1253.9 1309.8,1255.4 1311.8,1256.9 1313.8,1258.3 1315.8,1259.7 1317.8,1261.1 1319.8,1262.4 1321.8,1263.7 1323.8,1264.9 1325.8,1266.0 1327.8,1267.1 1329.8,1268.2 1331.8,1269.2 1333.8,1270.2 1335.8,1271.2 1337.8,1272.2 1339.8,1273.1 1341.8,1274.0 1343.8,1274.9 1345.8,1275.7 1347.8,1276.5 1349.8,1277.3 1351.8,1278.0 1353.8,1278.7 1355.8,1279.3 1357.8,1279.8 1359.8,1280.3 1361.8,1280.8 1363.8,1281.2 1365.8,1281.5 1367.8,1281.9 1369.8,1282.2 1371.8,1282.5 1373.8,1282.7 1375.8,1283.0 1377.8,1283.2 1379.8,1283.5 1381.8,1283.7 1383.8,1283.9 1385.8,1284.1 1387.8,1284.3 1389.8,1284.5 1391.8,1284.7 1393.8,1284.9 1395.8,1285.0 1397.8,1285.2 1399.8,1285.3 1401.8,1285.5 1403.8,1285.6 1405.8,1285.7 1407.8,1285.8 1409.8,1285.9 1411.8,1286.1 1413.8,1286.2 1415.8,1286.3 1417.8,1286.4 1419.8,1286.4 1421.8,1286.5 1423.8,1286.6 1425.8,1286.7 1427.8,1286.8 1429.8,1286.8 1431.8,1286.9 1433.8,1287.0 1435.8,1287.1 1437.8,1287.1 1439.8,1287.2 1441.8,1287.2 1443.8,1287.3 1445.8,1287.4 1447.8,1287.4 1449.8,1287.5 1451.8,1287.5 1453.8,1287.6 1455.8,1287.6 1457.8,1287.7 1459.8,1287.8 1461.8,1287.8 1463.8,1287.9 1465.8,1287.9 1467.8,1288.0 1469.8,1288.0 1471.8,1288.1 1473.8,1288.2 1475.8,1288.2 1477.8,1288.3 1479.8,1288.4 1481.8,1288.4 1483.8,1288.5 1485.8,1288.6 1487.8,1288.7 1489.8,1288.7 1491.8,1288.8 1493.8,1288.9 1495.8,1289.0 1497.8,1289.1 1499.8,1289.1 1501.8,1289.2 1503.8,1289.3 1505.8,1289.4 1507.8,1289.4 1509.8,1289.5 1511.8,1289.6 1513.8,1289.7 1515.8,1289.8 1517.8,1289.9 1519.8,1289.9 1521.8,1290.0 1523.8,1290.1 1525.8,1290.2 1527.8,1290.3 1529.8,1290.4 1531.8,1290.5 1533.8,1290.6 1535.8,1290.7 1537.8,1290.8 1539.8,1290.9 1541.8,1291.1 1543.8,1291.2 1545.8,1291.3 1547.8,1291.4 1549.8,1291.6 1551.8,1291.7 1553.8,1291.9 1555.8,1292.0 1557.8,1292.2 1559.8,1292.4 1561.8,1292.5 1563.8,1292.8 1565.8,1293.0 1567.8,1293.2 1569.8,1293.5 1571.8,1293.8 1573.8,1294.0 1575.8,1294.4 1577.8,1294.7 1579.8,1295.0 1581.8,1295.4 1583.8,1295.7 1585.8,1296.1 1587.8,1296.5 1589.8,1296.9 1591.8,1297.3 1593.8,1297.7 1595.8,1298.1 1597.8,1298.5 1599.8,1299.0 1601.8,1299.4 1603.8,1299.8 1605.8,1300.2 1607.8,1300.6 1609.8,1301.1 1611.8,1301.5 1613.8,1302.0 1615.8,1302.4 1617.8,1302.9 1619.8,1303.3 1621.8,1303.8 1623.8,1304.3 1625.8,1304.8 1627.8,1305.3 1629.8,1305.8 1631.8,1306.3 1633.8,1306.8 1635.8,1307.3 1637.8,1307.9 1639.8,1308.4 1641.8,1308.9 1643.8,1309.4 1645.8,1310.0 1647.8,1310.5 1649.8,1311.0 1651.8,1311.5 1653.8,1312.0 1655.8,1312.6 1657.8,1313.1 1659.8,1313.6 1661.8,1314.1 1663.8,1314.6 1665.8,1315.1 1667.8,1315.6 1669.8,1316.1 1671.8,1316.6 1673.8,1317.1 1675.8,1317.6 1677.8,1318.1 1679.8,1318.6 1681.8,1319.1 1683.8,1319.7 1685.8,1320.2 1687.8,1320.7 1689.8,1321.2 1691.8,1321.7 1693.8,1322.2 1695.8,1322.6 1697.8,1323.1 1699.8,1323.6 1701.8,1324.1 1703.8,1324.6 1705.8,1325.1 1707.8,1325.5 1709.8,1326.0 1711.8,1326.5 1713.8,1326.9 1715.8,1327.3 1717.8,1327.8 1719.8,1328.2 1721.8,1328.6 1723.8,1329.1 1725.8,1329.5 1727.8,1329.9 1729.8,1330.3 1731.8,1330.7 1733.8,1331.2 1735.8,1331.6 1737.8,1332.0 1739.8,1332.5 1741.8,1332.9 1743.8,1333.4 1745.8,1333.9 1747.8,1334.4 1749.8,1334.9 1751.8,1335.4 1753.8,1335.9 1755.8,1336.5 1757.8,1337.1 1759.8,1337.7 1761.8,1338.3 1763.8,1338.9 1765.8,1339.6 1767.8,1340.2 1769.8,1340.9 1771.8,1341.6 1773.8,1342.2 1775.8,1342.9 1777.8,1343.5 1779.8,1344.2 1781.8,1344.8 1783.8,1345.4 1785.8,1346.1 1787.8,1346.8 1789.8,1347.4 1791.8,1348.1 1793.8,1348.8 1795.8,1349.5 1797.8,1350.3 1799.8,1351.0 1801.8,1351.8 1803.8,1352.6 1805.8,1353.4 1807.8,1354.3 1809.8,1355.2 1811.8,1356.0 1813.8,1356.9 1815.8,1357.9 1817.8,1358.8 1819.8,1359.7 1821.8,1360.7 1823.8,1361.6 1825.8,1362.6 1827.8,1363.6 1829.8,1364.5 1831.8,1365.5 1833.8,1366.5 1835.8,1367.5 1837.8,1368.5 1839.8,1369.5 1841.8,1370.5 1843.8,1371.5 1845.8,1372.5 1847.8,1373.6 1849.8,1374.6 1851.8,1375.7 1853.8,1376.8 1855.8,1378.0 1857.8,1379.2 1859.8,1380.4 1861.8,1381.7 1863.8,1383.0 1865.8,1384.4 1867.8,1385.8 1869.8,1387.3 1871.8,1388.8 1873.8,1390.4 1875.8,1392.1 1877.8,1393.7 1879.8,1395.4 1881.8,1397.0 1883.8,1398.6 1885.8,1400.1 1887.8,1401.6 1889.8,1403.1 1891.8,1404.5 1893.8,1405.9 1895.8,1407.3 1897.8,1408.6 1899.8,1409.8 1901.8,1411.1 1903.8,1412.2 1905.8,1413.3 1907.8,1414.4 1909.8,1415.3 1911.8,1416.2 1913.8,1417.1 1915.8,1417.9 1917.8,1418.6 1919.8,1419.3 1921.8,1420.0 1923.8,1420.6 1925.8,1421.2 1927.8,1421.8 1929.8,1422.4 1931.8,1422.9 1933.8,1423.4 1935.8,1423.9 1937.8,1424.3 1939.8,1424.8 1941.8,1425.2 1943.8,1425.6 1945.8,1426.0 1947.8,1426.3 1949.8,1426.7 1951.8,1427.0 1953.8,1427.3 1955.8,1427.6 1957.8,1427.9 1959.8,1428.2 1961.8,1428.5 1963.8,1428.7 1965.8,1429.0 1967.8,1429.3 1969.8,1429.5 1971.8,1429.7 1973.8,1430.0 1975.8,1430.2 1977.8,1430.4 1979.8,1430.6 1981.8,1430.8 1983.8,1431.0 1985.8,1431.2 1987.8,1431.3 1989.8,1431.5 1991.8,1431.6 1993.8,1431.8 1995.8,1431.9 1997.8,1432.0 1999.8,1432.1 2001.8,1432.2 2003.8,1432.3 2005.8,1432.4 2007.8,1432.5 2009.8,1432.6 2011.8,1432.7 2013.8,1432.8 2015.8,1432.8 2017.8,1432.9 2019.8,1433.0 2021.8,1433.1 2023.8,1433.2 2025.8,1433.2 2027.8,1433.3 2029.8,1433.4 2031.8,1433.4 2033.8,1433.5 2035.8,1433.6 2037.8,1433.6 2039.8,1433.7 2041.8,1433.7 2043.8,1433.8 2045.8,1433.8 2047.8,1433.9 2049.8,1433.9 2051.8,1434.0 2053.8,1434.0 2055.8,1434.1 2057.8,1434.1 2059.8,1434.1 2061.8,1434.2 2063.8,1434.2 2065.8,1434.2 2067.8,1434.3 2069.8,1434.3 2071.8,1434.3 2073.8,1434.3 2075.8,1434.4 2077.8,1434.4 2079.8,1434.4 2081.8,1434.4 2083.8,1434.5 2085.8,1434.5 2087.8,1434.5 2089.8,1434.5 2091.8,1434.5 2093.8,1434.6 2095.8,1434.6 2097.8,1434.6 2099.8,1434.6 2101.8,1434.6 2103.8,1434.6 2105.8,1434.7 2107.8,1434.7 2109.8,1434.7 2111.8,1434.7 2113.8,1434.7 2115.8,1434.7 2117.8,1434.8 2119.8,1434.8 2121.8,1434.8 2123.8,1434.8 2125.8,1434.8 2127.8,1434.8 2129.8,1434.8 2131.8,1434.8 2133.8,1434.9 2135.8,1434.9 2137.8,1434.9 2139.8,1434.9 2141.8,1434.9 2143.8,1434.9 2145.8,1434.9 2147.8,1434.9 2149.8,1434.9 2151.8,1434.9 2153.8,1435.0 2155.8,1435.0 2157.8,1435.0 2159.8,1435.0 2161.8,1435.0 2163.8,1435.0 2165.8,1435.0 2167.8,1435.0 2169.8,1435.0 2171.8,1435.0 2173.8,1435.0 2175.8,1435.0 2177.8,1435.0 2179.8,1435.0 2181.8,1435.1 2183.8,1435.1 2185.8,1435.1 2187.8,1435.1 2189.8,1435.1 2191.8,1435.1 2193.8,1435.1 2195.8,1435.1 2197.8,1435.1 2199.8,1435.1 2201.8,1435.1 2203.8,1435.1 2205.8,1435.1 2207.8,1435.1 2209.8,1435.1 2211.8,1435.1 2213.8,1435.1 2215.8,1435.2 2217.8,1435.2 2219.8,1435.2 2221.8,1435.2 2223.8,1435.2 2225.8,1435.2 2227.8,1435.2 2229.8,1435.2 2231.8,1435.2 2233.8,1435.2 2235.8,1435.2 2237.8,1435.2 2239.8,1435.2 2241.8,1435.2 2243.8,1435.2 2245.8,1435.2 2247.8,1435.2 2249.8,1435.2 2251.8,1435.2 2253.8,1435.2 2255.8,1435.2 2257.8,1435.3 2259.8,1435.3 2261.8,1435.3 2263.8,1435.3 2265.8,1435.3 2267.8,1435.3 2269.8,1435.3 2271.8,1435.3 2273.8,1435.3 2275.8,1435.3 2277.8,1435.3 2279.8,1435.3 2281.8,1435.3 2283.8,1435.3 2285.8,1435.3 2287.8,1435.3 2289.8,1435.3 2291.8,1435.3 2293.8,1435.3 2295.8,1435.3 2297.8,1435.3 2299.8,1435.3 2301.8,1435.3 2303.8,1435.3 2305.8,1435.3 2307.8,1435.3" fill="none" stroke="#00ff00" stroke-width="10.5" stroke-linejoin="round" stroke-linecap="round"/></g>
<g><rect x="163.8" y="33.0" width="2144.4" height="1503.7" fill="none" stroke="#000" stroke-width="6.2"/><line x1="342.5" y1="1536.7" x2="342.5" y2="1520.7" stroke="#000" stroke-width="5.5"/><line x1="521.2" y1="1536.7" x2="521.2" y2="1505.7" stroke="#000" stroke-width="5.5"/><line x1="699.9" y1="1536.7" x2="699.9" y2="1520.7" stroke="#000" stroke-width="5.5"/><line x1="878.6" y1="1536.7" x2="878.6" y2="1505.7" stroke="#000" stroke-width="5.5"/><line x1="1057.3" y1="1536.7" x2="1057.3" y2="1520.7" stroke="#000" stroke-width="5.5"/><line x1="1236.0" y1="1536.7" x2="1236.0" y2="1505.7" stroke="#000" stroke-width="5.5"/><line x1="1414.7" y1="1536.7" x2="1414.7" y2="1520.7" stroke="#000" stroke-width="5.5"/><line x1="1593.4" y1="1536.7" x2="1593.4" y2="1505.7" stroke="#000" stroke-width="5.5"/><line x1="1772.1" y1="1536.7" x2="1772.1" y2="1520.7" stroke="#000" stroke-width="5.5"/><line x1="1950.8" y1="1536.7" x2="1950.8" y2="1505.7" stroke="#000" stroke-width="5.5"/><line x1="2129.5" y1="1536.7" x2="2129.5" y2="1520.7" stroke="#000" stroke-width="5.5"/></g>
<g><line x1="1937" y1="144.2" x2="2123" y2="144.2" stroke="#00ff00" stroke-width="11.5"/><line x1="1937" y1="249.8" x2="2123" y2="249.8" stroke="#0000ff" stroke-width="11.5"/></g>
<g font-family="'Liberation Serif', 'Times New Roman', serif" fill="#000"><text x="115.8" y="1613.8" font-size="62.8" textLength="97.0" lengthAdjust="spacingAndGlyphs">930</text><text x="473.0" y="1613.8" font-size="62.8" textLength="97.0" lengthAdjust="spacingAndGlyphs">920</text><text x="830.2" y="1613.8" font-size="62.8" textLength="97.0" lengthAdjust="spacingAndGlyphs">910</text><text x="1188.4" y="1613.8" font-size="62.8" textLength="95.9" lengthAdjust="spacingAndGlyphs">900</text><text x="1544.6" y="1613.8" font-size="62.8" textLength="97.0" lengthAdjust="spacingAndGlyphs">890</text><text x="1902.8" y="1613.8" font-size="62.8" textLength="97.0" lengthAdjust="spacingAndGlyphs">880</text><text x="2260.0" y="1613.8" font-size="62.8" textLength="97.0" lengthAdjust="spacingAndGlyphs">870</text><text x="911.5" y="1709.7" font-size="75.0" textLength="625.4" lengthAdjust="spacingAndGlyphs">Binding energy (ev)</text><text x="676.5" y="116.8" font-size="69.2">u</text><text x="713.0" y="146.0" font-size="43.0">3</text><text x="955.6" y="292.6" font-size="72.7" textLength="35.0" lengthAdjust="spacingAndGlyphs">u</text><text x="992.0" y="321.8" font-size="43.4" textLength="25.0" lengthAdjust="spacingAndGlyphs">2</text><text x="1085.4" y="319.2" font-size="72.7">u</text><text x="1126.5" y="348.5" font-size="43.0" textLength="17.9" lengthAdjust="spacingAndGlyphs">1</text><text x="1197.9" y="144.9" font-size="72.5" textLength="40.3" lengthAdjust="spacingAndGlyphs">u</text><text x="1321.6" y="97.5" font-size="74.6">v</text><text x="1358.2" y="125.7" font-size="46.1">3</text><text x="1614.5" y="390.2" font-size="70.7" textLength="36.2" lengthAdjust="spacingAndGlyphs">v</text><text x="1652.0" y="420.0" font-size="43.0" textLength="24.0" lengthAdjust="spacingAndGlyphs">2</text><text x="1747.2" y="390.2" font-size="70.7" textLength="34.9" lengthAdjust="spacingAndGlyphs">v</text><text x="1786.1" y="419.8" font-size="39.4">1</text><text x="1865.4" y="194.2" font-size="70.7">v</text><text x="2134.5" y="169.5" font-size="75.0" textLength="87.3" lengthAdjust="spacingAndGlyphs">Ce</text><text x="2220.5" y="128.5" font-size="44.0" textLength="52.6" lengthAdjust="spacingAndGlyphs">4+</text><text x="2134.5" y="274.0" font-size="75.0" textLength="87.3" lengthAdjust="spacingAndGlyphs">Ce</text><text x="2222.0" y="233.0" font-size="44.0" textLength="51.6" lengthAdjust="spacingAndGlyphs">3+</text><text x="2007.5" y="653.7" font-size="71.5" textLength="283.1" lengthAdjust="spacingAndGlyphs">Au/CML</text><text x="2037.0" y="880.5" font-size="73.2" textLength="214.9" lengthAdjust="spacingAndGlyphs">Au/CL</text><text x="2037.0" y="1184.2" font-size="74.5" textLength="233.1" lengthAdjust="spacingAndGlyphs">Au/CM</text><text x="2023.0" y="1390.0" font-size="73.3" textLength="244.7" lengthAdjust="spacingAndGlyphs">Au/R-C</text><text transform="translate(87.5,1086.0) rotate(-90)" font-size="86.8" textLength="479.6" lengthAdjust="spacingAndGlyphs">Intensity (a.u.)</text></g>
</svg></body></html>
